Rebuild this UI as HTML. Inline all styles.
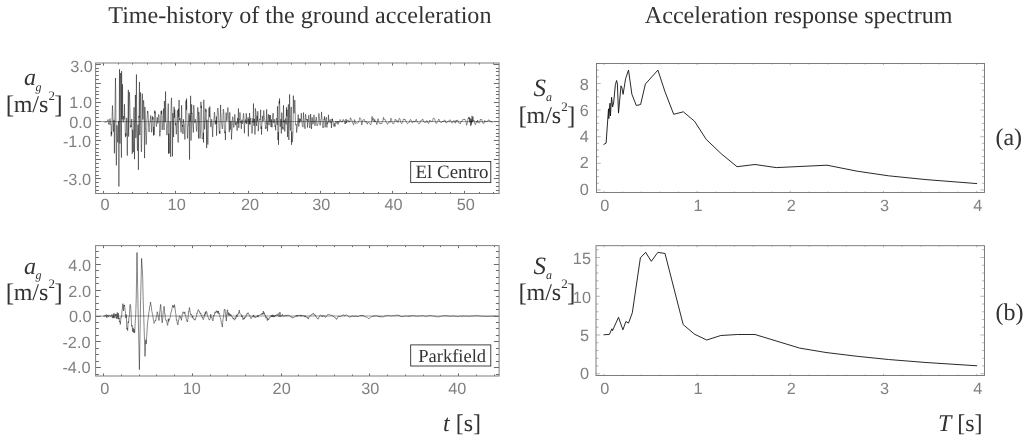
<!DOCTYPE html>
<html lang="en">
<head>
<meta charset="utf-8">
<title>Time-history of the ground acceleration and acceleration response spectrum</title>
<style>
html,body{margin:0;padding:0;background:#fff;}
body{width:1034px;height:443px;overflow:hidden;}
svg{display:block;text-rendering:geometricPrecision;}
</style>
</head>
<body>
<svg width="1034" height="443" viewBox="0 0 1034 443">
<rect width="1034" height="443" fill="#fff"/>
<g fill="none" stroke-linejoin="round" stroke-linecap="butt">
<path d="M95.6 121.6H499.1" stroke="#555" stroke-width="0.6"/>
<path d="M95.6 316H499.1" stroke="#555" stroke-width="0.6"/>
<path stroke="#000" stroke-width="0.45" d="M104.5 122.2L104.65 121.93L104.8 122.15L104.95 122.31L105.1 122.31L105.25 122.19L105.4 122.05L105.55 121.95L105.7 121.96L105.85 122.05L106 122.09L106.15 122.06L106.3 122.01L106.45 121.99L106.6 121.96L106.75 121.79L106.9 121.45L107.05 121.09L107.2 120.9L107.35 120.75L107.5 120.5L107.65 120.15L107.8 119.79L107.95 119.5L108.1 119.64L108.25 120.09L108.4 122.7L108.55 123.5L108.7 122.97L108.85 123.88L109 124.52L109.15 124.73L109.3 124.36L109.45 123.37L109.6 121.82L109.75 120.11L109.9 118.85L110.05 118.62L110.2 119.5L110.35 121.01L110.5 122.98L110.65 124.54L110.8 124.82L110.95 124.48L111.1 127.11L111.25 136.3L111.4 131.71L111.55 133.59L111.7 134.31L111.85 130.32L112 122.04L112.15 115.19L112.3 110.35L112.45 105.5L112.6 109.02L112.75 111.55L112.9 115.96L113.05 121.54L113.2 127.53L113.35 131.11L113.5 131.55L113.65 128.7L113.8 124.29L113.95 119.87L114.1 123.58L114.25 138.44L114.4 153.3L114.55 138.44L114.7 124.38L114.85 120.82L115 112.47L115.15 101.58L115.3 91.06L115.45 78L115.6 84.93L115.75 95.1L115.9 113.66L116.05 137.08L116.2 157.01L116.35 165.35L116.5 160.58L116.65 147.39L116.8 132.65L116.95 125.34L117.1 128.25L117.25 134.77L117.4 139.25L117.55 141.35L117.7 142.34L117.85 140.9L118 136.29L118.15 129.54L118.3 123.78L118.45 121.08L118.6 125.66L118.75 156.08L118.9 186.5L119.05 157.2L119.2 127.9L119.35 98.6L119.5 69.3L119.65 93.82L119.8 118.33L119.95 143.51L120.1 124.52L120.25 104.89L120.4 85.83L120.55 73.03L120.7 73.56L120.85 88.72L121 112.47L121.15 136.95L121.3 148.42L121.45 157.6L121.6 71.1L121.75 94.77L121.9 117.8L122.05 118.15L122.2 119.27L122.35 101.78L122.5 84.3L122.65 101.78L122.8 119.27L122.95 120.18L123.1 121.36L123.25 122.42L123.4 120.6L123.55 117.92L123.7 115.99L123.85 116.29L124 117.92L124.15 119.36L124.3 115.11L124.45 104.3L124.6 109.71L124.75 116.97L124.9 117.58L125.05 120.2L125.2 127.97L125.35 135.58L125.5 137.13L125.65 134.62L125.8 133.29L125.95 134.79L126.1 135.79L126.25 132.37L126.4 125.03L126.55 120.07L126.7 118.15L126.85 117.84L127 123.73L127.15 139.66L127.3 155.6L127.45 139.66L127.6 135.99L127.75 131.85L127.9 131.2L128.05 114.67L128.2 99.81L128.35 89.9L128.5 109.71L128.65 136.58L128.8 124.54L128.95 114.22L129.1 104.19L129.25 95.96L129.4 92.23L129.55 93.74L129.7 99.11L129.85 106.04L130 112.87L130.15 118.65L130.3 123.77L130.45 127.27L130.6 127.34L130.75 125.88L130.9 125.41L131.05 126.41L131.2 127.08L131.35 125.45L131.5 121.66L131.65 119.16L131.8 118.96L131.95 121.51L132.1 133.68L132.25 153.8L132.4 143.74L132.55 130.27L132.7 129.72L132.85 133.68L133 140.69L133.15 147.89L133.3 152.1L133.45 149.93L133.6 140.65L133.75 126.82L133.9 115.46L134.05 107.24L134.2 123.95L134.35 141.58L134.5 159.2L134.65 141.57L134.8 123.95L134.95 121.02L135.1 119.93L135.25 107.42L135.4 94.9L135.55 107.42L135.7 119.93L135.85 137.91L136 119.65L136.15 106.71L136.3 89.22L136.45 74.5L136.6 103.94L136.75 124.68L136.9 129.05L137.05 133.68L137.2 140.35L137.35 147.24L137.5 150.74L137.65 148.63L137.8 139.9L137.95 127.99L138.1 124.61L138.25 147.21L138.4 169.8L138.55 147.21L138.7 124.61L138.85 115.97L139 117.59L139.15 112.94L139.3 94.37L139.45 82L139.6 106.75L139.75 135.06L139.9 128.7L140.05 117.17L140.2 104.83L140.35 95.33L140.5 92.37L140.65 97.89L140.8 110.4L140.95 126.14L141.1 141.66L141.25 150.41L141.4 151.94L141.55 148.57L141.7 142.89L141.85 135.72L142 119.85L142.15 106.72L142.3 93.6L142.45 106.73L142.6 110.96L142.75 115.87L142.9 119.58L143.05 118.82L143.2 113.41L143.35 106.17L143.5 101.06L143.65 100.3L143.8 104.01L143.95 109.88L144.1 114.12L144.25 129.58L144.4 146.69L144.55 158.1L144.7 135.29L144.85 106.92L145 110.2L145.15 115.96L145.3 121.74L145.45 127.67L145.6 130.39L145.75 133.46L145.9 137.98L146.05 142.27L146.2 144.56L146.35 143.67L146.5 139.46L146.65 133.3L146.8 126.48L146.95 120.82L147.1 117.99L147.25 116.09L147.4 114.38L147.55 111.1L147.7 112.36L147.85 111.6L148 112.14L148.15 114.11L148.3 117.29L148.45 121.09L148.6 125L148.75 127.84L148.9 128.79L149.05 132L149.2 127.47L149.35 126.14L149.5 124.55L149.65 123.31L149.8 122.75L149.95 122.63L150.1 122.24L150.25 120.96L150.4 118.89L150.55 116.71L150.7 115.5L150.85 116.38L151 119.64L151.15 123.91L151.3 128.02L151.45 131.15L151.6 132.29L151.75 131.13L151.9 127.94L152.05 123.6L152.2 119.12L152.35 116.29L152.5 116.4L152.65 118.3L152.8 119.6L152.95 119.15L153.1 117.24L153.25 124.66L153.4 131.23L153.55 135.6L153.7 126.85L153.85 128.55L154 133.27L154.15 134.96L154.3 133.3L154.45 129.13L154.6 117.44L154.75 110.5L154.9 113.44L155.05 111.56L155.2 112.02L155.35 114.17L155.5 117.11L155.65 119.62L155.8 121.25L155.95 122.22L156.1 123.55L156.25 125.41L156.4 126.62L156.55 126.5L156.7 125.16L156.85 122.76L157 119.67L157.15 117.47L157.3 117.31L157.45 119.12L157.6 121.54L157.75 122.98L157.9 123.31L158.05 122.65L158.2 120.59L158.35 117.69L158.5 115.34L158.65 114.36L158.8 114.47L158.95 115.31L159.1 117.27L159.25 120.05L159.4 123.14L159.55 126.11L159.7 131.71L159.85 136.3L160 131.31L160.15 131.87L160.3 129.9L160.45 124.87L160.6 118.98L160.75 114.32L160.9 111.74L161.05 111.06L161.2 111.17L161.35 111.95L161.5 113.97L161.65 110.5L161.8 117.44L161.95 128.21L162.1 129.94L162.25 129.44L162.4 127.64L162.55 125.69L162.7 123.8L162.85 121.87L163 118.28L163.15 115.46L163.3 113.46L163.45 111.28L163.6 108.63L163.75 123.44L163.9 127.38L164.05 130L164.2 124.75L164.35 100.98L164.5 102.75L164.65 107.48L164.8 114.07L164.95 119.83L165.1 121.92L165.25 121.78L165.4 110.31L165.55 91.5L165.7 100.91L165.85 115.02L166 122.53L166.15 122.81L166.3 123.4L166.45 125.6L166.6 129.35L166.75 133.15L166.9 135.18L167.05 134.42L167.2 131.33L167.35 128.25L167.5 126.25L167.65 124.27L167.8 120.17L167.95 112.8L168.1 106.36L168.25 103.63L168.4 106.72L168.55 153.7L168.7 133.68L168.85 137.99L169 146.46L169.15 151.84L169.3 153.24L169.45 149.69L169.6 141.86L169.75 132.5L169.9 124.94L170.05 121.57L170.2 122.74L170.35 129.32L170.5 145.87L170.65 156.9L170.8 134.84L170.95 114.84L171.1 106.21L171.25 100.32L171.4 99.32L171.55 97.8L171.7 105.24L171.85 109.73L172 112.51L172.15 115.62L172.3 134.61L172.45 156.3L172.6 145.46L172.75 129.19L172.9 113.07L173.05 115.03L173.2 120.9L173.35 128.76L173.5 134.71L173.65 137.02L173.8 120.67L173.95 113.74L174.1 106.8L174.25 113.74L174.4 117.7L174.55 111.96L174.7 109.42L174.85 110.3L175 113.6L175.15 118.15L175.3 122.58L175.45 125.25L175.6 124.36L175.75 122.94L175.9 124.7L176.05 129.3L176.2 133.36L176.35 134.27L176.5 132.25L176.65 128.48L176.8 123.95L176.95 119.82L177.1 115.83L177.25 112.17L177.4 110.23L177.55 110.49L177.7 112.02L177.85 126.17L178 135.97L178.15 142.5L178.3 129.44L178.45 108.62L178.6 112.24L178.75 117.07L178.9 113.46L179.05 99.9L179.2 106.68L179.35 116.85L179.5 120.29L179.65 118.9L179.8 118.78L179.95 118.95L180.1 118.43L180.25 118.19L180.4 119.63L180.55 122.73L180.7 126.45L180.85 129.09L181 130.88L181.15 132.36L181.3 120.58L181.45 112.94L181.6 105.3L181.75 112.94L181.9 120.58L182.05 121.64L182.2 123.95L182.35 126.32L182.5 126.77L182.65 125.02L182.8 126.25L182.95 134L183.1 130.12L183.25 124.31L183.4 119.31L183.55 121.48L183.7 122.56L183.85 122.51L184 122.97L184.15 124.8L184.3 127.58L184.45 130.91L184.6 134.64L184.75 138.05L184.9 139.54L185.05 137.48L185.2 131.34L185.35 122.38L185.5 115.31L185.65 108.49L185.8 103.14L185.95 100.59L186.1 101.16L186.25 104.65L186.4 109.8L186.55 98.6L186.7 105.79L186.85 116.57L187 122.21L187.15 127.1L187.3 133.3L187.45 137.98L187.6 138.44L187.75 134.68L187.9 129.53L188.05 125.78L188.2 124.9L188.35 125.25L188.5 122.9L188.65 119.12L188.8 115.86L188.95 114.1L189.1 113.14L189.25 129.91L189.4 147.73L189.55 159.6L189.7 135.85L189.85 115.42L190 116.86L190.15 121.42L190.3 119.99L190.45 107.89L190.6 95.8L190.75 107.89L190.9 119.99L191.05 140.52L191.2 132.02L191.35 117.82L191.5 109.71L191.65 104.3L191.8 113.84L191.95 112.95L192.1 113.32L192.25 114.95L192.4 117.69L192.55 120.96L192.7 124.19L192.85 126.79L193 127.5L193.15 127.39L193.3 132.5L193.45 127.39L193.6 122.28L193.75 105.28L193.9 107.6L194.05 112.4L194.2 117.09L194.35 120.24L194.5 121.83L194.65 122.5L194.8 122.94L194.95 122.88L195.1 122.41L195.25 121.7L195.4 120.39L195.55 119.28L195.7 119.42L195.85 121.17L196 123.35L196.15 125.74L196.3 128.18L196.45 130.42L196.6 131.44L196.75 130.3L196.9 127.6L197.05 124.38L197.2 120.51L197.35 115.41L197.5 110.81L197.65 107.94L197.8 107.3L197.95 108.17L198.1 108.67L198.25 125.3L198.4 133.22L198.55 138.5L198.7 127.94L198.85 111.81L199 115.21L199.15 117.02L199.3 117.94L199.45 120.33L199.6 126.04L199.75 133.38L199.9 138.05L200.05 138.44L200.2 136.71L200.35 134.49L200.5 131.96L200.65 128.29L200.8 114.17L200.95 101.8L201.1 107.99L201.25 106.37L201.4 105.8L201.55 109.1L201.7 116.41L201.85 125.53L202 133.3L202.15 137.77L202.3 138.93L202.45 138.9L202.6 138.67L202.75 138.7L202.9 138.94L203.05 138.64L203.2 136.69L203.35 132.7L203.5 142.5L203.65 115.26L203.8 99.9L203.95 105.58L204.1 109.61L204.25 117.94L204.4 125.77L204.55 129.26L204.7 128.01L204.85 124.78L205 122.53L205.15 121.55L205.3 120.68L205.45 119.04L205.6 116.53L205.75 108.6L205.9 111.5L206.05 110.16L206.2 110.13L206.35 127.4L206.5 139.82L206.65 148.1L206.8 131.54L206.95 119.69L207.1 124.04L207.25 129.69L207.4 134.97L207.55 139.81L207.7 143.43L207.85 144.55L208 142.77L208.15 137.45L208.3 129.73L208.45 121.75L208.6 116.71L208.75 112.53L208.9 109.22L209.05 107.75L209.2 109.39L209.35 113.64L209.5 117.14L209.65 113.58L209.8 106.5L209.95 112.35L210.1 113.78L210.25 117.06L210.4 120.56L210.55 124.01L210.7 126.41L210.85 127.08L211 126.31L211.15 124.33L211.3 122.09L211.45 120.49L211.6 119.31L211.75 119.28L211.9 121.19L212.05 124.14L212.2 127.01L212.35 129.65L212.5 132.12L212.65 136.9L212.8 131.52L212.95 128.64L213.1 125.42L213.25 123.41L213.4 122.73L213.55 122.64L213.7 122.33L213.85 120.9L214 118.13L214.15 115.41L214.3 113.35L214.45 112.11L214.6 112.58L214.75 115.35L214.9 119.66L215.05 123.06L215.2 124.46L215.35 124.15L215.5 122.71L215.65 121.24L215.8 120.63L215.95 121.68L216.1 122.83L216.25 123.77L216.4 116.5L216.55 135.6L216.7 131.26L216.85 124.67L217 120.35L217.15 116.66L217.3 112.87L217.45 110.09L217.6 108.65L217.75 108.13L217.9 107.98L218.05 108.56L218.2 110.16L218.35 112.06L218.5 114.13L218.65 117.3L218.8 122.12L218.95 125.45L219.1 128.94L219.25 131.85L219.4 133.4L219.55 133.05L219.7 130.96L219.85 133.8L220 126.17L220.15 122.03L220.3 117.71L220.45 112.73L220.6 104.9L220.75 112.73L220.9 113.19L221.05 115.04L221.2 119.11L221.35 122.46L221.5 123.84L221.65 124.59L221.8 125.29L221.95 126.37L222.1 127.66L222.25 128.74L222.4 128.9L222.55 127.48L222.7 124.56L222.85 120.7L223 115.72L223.15 111.76L223.3 109.53L223.45 109.04L223.6 109.84L223.75 111.68L223.9 114.69L224.05 118.98L224.2 123.91L224.35 128.43L224.5 131.54L224.65 133.05L224.8 133.2L224.95 132.53L225.1 131.57L225.25 131.38L225.4 140L225.55 131.37L225.7 122.75L225.85 115.48L226 112.96L226.15 112.64L226.3 113.91L226.45 116.29L226.6 118.93L226.75 120.6L226.9 120.85L227.05 119.96L227.2 118.07L227.35 115.42L227.5 112.58L227.65 110.02L227.8 107.5L227.95 108.55L228.1 110.27L228.25 113.04L228.4 115.82L228.55 117.97L228.7 119.75L228.85 121.8L229 126.99L229.15 131.11L229.3 132.08L229.45 130.1L229.6 118.11L229.75 112.3L229.9 115.21L230.05 119.57L230.2 129.69L230.35 128.57L230.5 127.25L230.65 125.59L230.8 122.97L230.95 121.22L231.1 121.1L231.25 125.49L231.4 133.84L231.55 139.4L231.7 133.54L231.85 133.15L232 130.76L232.15 126.15L232.3 120.94L232.45 118.71L232.6 117.21L232.75 116.69L232.9 117.03L233.05 118.14L233.2 119.93L233.35 122.36L233.5 125.64L233.65 127.16L233.8 127.44L233.95 127.03L234.1 125.83L234.25 123.82L234.4 121.77L234.55 120.02L234.7 116.65L234.85 114.4L235 118.22L235.15 119.42L235.3 121.54L235.45 124L235.6 125.11L235.75 124.45L235.9 122.92L236.05 121.82L236.2 121.95L236.35 123.23L236.5 124.77L236.65 125.84L236.8 126.42L236.95 126.38L237.1 130.6L237.25 126.38L237.4 122.16L237.55 118.56L237.7 117.87L237.85 120.38L238 123.67L238.15 118.73L238.3 112.59L238.45 108.5L238.6 116.69L238.75 127.81L238.9 125.79L239.05 123.33L239.2 121.11L239.35 119.63L239.5 119.46L239.65 119.96L239.8 118.15L239.95 112.4L240.1 115.28L240.25 119.59L240.4 122.76L240.55 122.49L240.7 121.84L240.85 121.64L241 122.05L241.15 125.43L241.3 128.8L241.45 125.42L241.6 122.05L241.75 120L241.9 119.63L242.05 120.03L242.2 120.96L242.35 122.24L242.5 123.42L242.65 123.84L242.8 122.94L242.95 120.69L243.1 118.22L243.25 115.79L243.4 113.98L243.55 113.35L243.7 114.17L243.85 116.26L244 118.87L244.15 124.16L244.3 129.64L244.45 133.3L244.6 125.99L244.75 124.58L244.9 123.93L245.05 122.99L245.2 121.22L245.35 120.16L245.5 119.56L245.65 119.78L245.8 120.79L245.95 123.1L246.1 118.49L246.25 113.3L246.4 115.89L246.55 119.78L246.7 124.03L246.85 121.82L247 121.31L247.15 121.15L247.3 121.07L247.45 121.03L247.6 120.68L247.75 119.87L247.9 118.67L248.05 117.29L248.2 127.15L248.35 136.4L248.5 131.77L248.65 124.84L248.8 119.04L248.95 120L249.1 121.13L249.25 124.5L249.4 118.37L249.55 113L249.7 115.69L249.85 119.72L250 124.25L250.15 120.72L250.3 119.07L250.45 118.27L250.6 117.96L250.75 118.15L250.9 119.54L251.05 122.56L251.2 125.8L251.35 127.28L251.5 127.25L251.65 127.49L251.8 129.78L251.95 133.5L252.1 132.96L252.25 131.56L252.4 128.3L252.55 124.5L252.7 120.99L252.85 118.49L253 119.37L253.15 122.7L253.3 114.81L253.45 103.5L253.6 109.16L253.75 117.64L253.9 125.87L254.05 125.14L254.2 124.17L254.35 122.81L254.5 121.19L254.65 118.88L254.8 126.44L254.95 134.5L255.1 130.47L255.25 124.42L255.4 108.41L255.55 109.63L255.7 110.78L255.85 110.87L256 112.32L256.15 116.6L256.3 121.89L256.45 125.39L256.6 126.06L256.75 123.23L256.9 118.78L257.05 115.74L257.2 116.02L257.35 120.4L257.5 120.96L257.65 116.13L257.8 111.3L257.95 116.13L258.1 120.96L258.25 131.26L258.4 130.44L258.55 128.23L258.7 125.66L258.85 123.96L259 122.65L259.15 121.41L259.3 120.59L259.45 119.78L259.6 119.14L259.75 119.39L259.9 120L260.05 119.82L260.2 118.86L260.35 117.99L260.5 113.49L260.65 109.8L260.8 117.18L260.95 127.73L261.1 129.03L261.25 126.83L261.4 126.48L261.55 134.6L261.7 130.54L261.85 124.44L262 124.03L262.15 122.79L262.3 119.73L262.45 116.83L262.6 115.82L262.75 116.95L262.9 119.23L263.05 121.21L263.2 121.13L263.35 118.5L263.5 114.53L263.65 111.34L263.8 110.45L263.95 111.79L264.1 114.19L264.25 116.35L264.4 117.8L264.55 118.78L264.7 119.66L264.85 120.41L265 121.41L265.15 123.33L265.3 125.95L265.45 128.14L265.6 129.01L265.75 128.44L265.9 127.46L266.05 127.47L266.2 128.23L266.35 118.93L266.5 113.21L266.65 109.4L266.8 117.03L266.95 123.63L267.1 122.92L267.25 123.72L267.4 128.27L267.55 131.3L267.7 125.24L267.85 119.34L268 117.52L268.15 115.76L268.3 114.36L268.45 114.19L268.6 115.91L268.75 119.33L268.9 122.88L269.05 125.13L269.2 119.12L269.35 115L269.5 117.06L269.65 120.16L269.8 121.95L269.95 121.18L270.1 119.91L270.25 118.29L270.4 116.53L270.55 115.2L270.7 121.94L270.85 124.47L271 127L271.15 124.47L271.3 121.94L271.45 119.39L271.6 122.87L271.75 125.5L271.9 127.17L272.05 127.35L272.2 125.97L272.35 123.48L272.5 120.23L272.65 116.98L272.8 115.55L272.95 115.8L273.1 113.1L273.25 117.08L273.4 121.07L273.55 122.62L273.7 122.96L273.85 122.44L274 121.36L274.15 119.84L274.3 119.24L274.45 120.26L274.6 122.28L274.75 124.3L274.9 126.08L275.05 127.04L275.2 126.89L275.35 125.67L275.5 127.58L275.65 130.3L275.8 124.86L275.95 119.65L276.1 119.36L276.25 118.8L276.4 118.2L276.55 118.28L276.7 119.19L276.85 120.53L277 122.28L277.15 124.88L277.3 115.86L277.45 106.3L277.6 111.08L277.75 118.25L277.9 139.89L278.05 136.98L278.2 131.99L278.35 133.93L278.5 144.8L278.65 133.92L278.8 123.05L278.95 106.83L279.1 102.31L279.25 100.9L279.4 103.55L279.55 98.5L279.7 105.72L279.85 116.55L280 124.58L280.15 126.68L280.3 126.64L280.45 125.4L280.6 123.71L280.75 121.7L280.9 119.12L281.05 124.2L281.2 129.78L281.35 133.5L281.5 126.06L281.65 112.67L281.8 112.83L281.95 114.87L282.1 119.17L282.25 123.69L282.4 126.94L282.55 128.43L282.7 128L282.85 127.25L283 127.82L283.15 129.61L283.3 115.49L283.45 105.3L283.6 110.39L283.75 118.03L283.9 122.47L284.05 120.74L284.2 120.24L284.35 121.8L284.5 123.67L284.65 126.86L284.8 131.5L284.95 126.86L285.1 122.22L285.25 121.03L285.4 119.48L285.55 118.48L285.7 119.1L285.85 121.1L286 122.93L286.15 124.4L286.3 116.24L286.45 107.3L286.6 111.77L286.75 116.35L286.9 111.87L287.05 109.68L287.2 122.56L287.35 129.73L287.5 136.9L287.65 129.73L287.8 122.56L287.95 118.79L288.1 112.25L288.25 106.29L288.4 104.42L288.55 125.63L288.7 134.25L288.85 140L289 128.5L289.15 123.57L289.3 118.61L289.45 107.15L289.6 94.4L289.75 107.15L289.9 118.7L290.05 123.45L290.2 127.21L290.35 130.03L290.5 130.45L290.65 127.55L290.8 122.25L290.95 114.8L291.1 109.51L291.25 106.91L291.4 130.3L291.55 144.8L291.7 137.55L291.85 131.6L292 139.02L292.15 142.14L292.3 142L292.45 140.67L292.6 139.17L292.75 136.86L292.9 132.95L293.05 127.46L293.2 111.85L293.35 95.6L293.5 103.73L293.65 109.15L293.8 110.8L293.95 112.59L294.1 113.23L294.25 111.97L294.4 108.6L294.55 104.25L294.7 100.65L294.85 99.96L295 103.22L295.15 109.08L295.3 115.34L295.45 120.95L295.6 123.8L295.75 125.1L295.9 125.18L296.05 124.56L296.2 124.22L296.35 125L296.5 129.09L296.65 132.5L296.8 130.37L296.95 129.88L297.1 128.32L297.25 126.34L297.4 124.44L297.55 122.81L297.7 120.95L297.85 117.84L298 115.41L298.15 114.46L298.3 115.16L298.45 117.15L298.6 123.44L298.75 126.5L298.9 124.97L299.05 122.67L299.2 118.41L299.35 119L299.5 120.83L299.65 122.21L299.8 122.61L299.95 122.13L300.1 120.72L300.25 119.19L300.4 118.86L300.55 119.61L300.7 120.65L300.85 121.16L301 120.95L301.15 117.08L301.3 113.1L301.45 117.08L301.6 118.97L301.75 119.77L301.9 121.66L302.05 123.4L302.2 124.74L302.35 125.41L302.5 125.72L302.65 126.21L302.8 126.85L302.95 127.16L303.1 126.57L303.25 119.61L303.4 115.34L303.55 112.5L303.7 118.19L303.85 118.59L304 119.33L304.15 120.96L304.3 123.04L304.45 125.2L304.6 126.66L304.75 126.65L304.9 126.55L305.05 128.8L305.2 124.3L305.35 116.12L305.5 114.46L305.65 114.23L305.8 115.21L305.95 116.84L306.1 118.52L306.25 119.66L306.4 120.04L306.55 119.83L306.7 119.49L306.85 119.61L307 120.19L307.15 120.84L307.3 119.12L307.45 127.5L307.6 125.67L307.75 122.89L307.9 122.34L308.05 122.18L308.2 121.59L308.35 120.06L308.5 117.98L308.65 116.06L308.8 115.27L308.95 116.4L309.1 119.31L309.25 122.68L309.4 125.33L309.55 127.13L309.7 127.99L309.85 128L310 127.24L310.15 125.85L310.3 121.12L310.45 117.56L310.6 114L310.75 117.56L310.9 119.9L311.05 120.95L311.2 122.23L311.35 125.53L311.5 129L311.65 125.53L311.8 122.06L311.95 117.99L312.1 117.26L312.25 117.55L312.4 118.74L312.55 120.45L312.7 122.18L312.85 123.53L313 124.21L313.15 123.79L313.3 122.46L313.45 120.91L313.6 119.99L313.75 120.11L313.9 116.92L314.05 114.8L314.2 119.05L314.35 122.2L314.5 121.95L314.65 121.71L314.8 123.18L314.95 125.8L315.1 124.49L315.25 122.52L315.4 120.69L315.55 120.86L315.7 120.89L315.85 120.18L316 118.63L316.15 117.23L316.3 117L316.45 118.37L316.6 121.18L316.75 123.47L316.9 125.17L317.05 125.94L317.2 125.93L317.35 125.57L317.5 125.17L317.65 124.69L317.8 124.21L317.95 123.76L318.1 122.99L318.25 121.59L318.4 118.83L318.55 116.21L318.7 114.3L318.85 113.36L319 113.48L319.15 114.5L319.3 116.16L319.45 118.27L319.6 120.76L319.75 122.88L319.9 124.5L320.05 125.38L320.2 125.26L320.35 124.2L320.5 122.52L320.65 120.6L320.8 119.26L320.95 118.88L321.1 118.87L321.25 118.72L321.4 114.93L321.55 111.9L321.7 115.5L321.85 115.78L322 117.78L322.15 120.79L322.3 123.25L322.45 124.65L322.6 125.17L322.75 125.43L322.9 126L323.05 128L323.2 125.77L323.35 124.72L323.5 123.25L323.65 121.55L323.8 120.08L323.95 119.05L324.1 118.67L324.25 119.05L324.4 119.61L324.55 116.3L324.7 117.96L324.85 120.44L325 127.13L325.15 127.32L325.3 126.67L325.45 125.04L325.6 122.75L325.75 120.63L325.9 119.17L326.05 118.27L326.2 117.72L326.35 117.39L326.5 117.21L326.65 122.89L326.8 125.66L326.95 127.5L327.1 123.81L327.25 122.33L327.4 123.61L327.55 124.04L327.7 123.54L327.85 122.78L328 122.46L328.15 122.58L328.3 119.05L328.45 114.8L328.6 116.93L328.75 120.11L328.9 121.58L329.05 121.88L329.2 122.2L329.35 122.24L329.5 121.88L329.65 121.23L329.8 120.5L329.95 119.76L330.1 119.35L330.25 119.62L330.4 120.42L330.55 121.38L330.7 122.48L330.85 123.17L331 123.07L331.15 121.94L331.3 124L331.45 128L331.6 126L331.75 123L331.9 118.84L332.05 119.83L332.2 120.7L332.35 120.11L332.5 118.8L332.65 120.11L332.8 121L332.95 121.19L333.1 121.56L333.25 122.51L333.4 123.59L333.55 124.68L333.7 125.66L333.85 126.35L334 126.66L334.15 126.4L334.3 125.56L334.45 124.51L334.6 123.68L334.75 123.3L334.9 124.97L335.05 126.5L335.2 123.44L335.35 122.73L335.5 122.17L335.65 121.54L335.8 121.2L335.95 121.09L336.1 121.26L336.25 121.67L336.4 122.38L336.55 123L336.7 123.37L336.85 123.34L337 122.95L337.15 122.39L337.3 121.87L337.45 121.49L337.6 121.24L337.75 122.23L337.9 123.59L338.05 124.5L338.2 122.69L338.35 121.28L338.5 121.62L338.65 122.04L338.8 122.33L338.95 122.46L339.1 122.46L339.25 122.28L339.4 121.83L339.55 121.29L339.7 120.78L339.85 120.32L340 119.5L340.15 119.67L340.3 119.63L340.45 119.87L340.6 120.43L340.75 121.14L340.9 121.76L341.05 122.04L341.2 121.93L341.35 121.65L341.5 121.4L341.65 121.31L341.8 121.49L341.95 121.86L342.1 122.16L342.25 122.1L342.4 121.66L342.55 121.02L342.7 120.35L342.85 119.81L343 119.48L343.15 119.37L343.3 119.51L343.45 119.95L343.6 120.51L343.75 120.92L343.9 121.09L344.05 121.06L344.2 120.9L344.35 120.8L344.5 120.88L344.65 121.09L344.8 122.5L344.95 124L345.1 123.25L345.25 122.66L345.4 123.07L345.55 123.43L345.7 121.44L345.85 120.22L346 119L346.15 120.22L346.3 121.44L346.45 123.12L346.6 122.53L346.75 121.88L346.9 121.14L347.05 120.48L347.2 120.13L347.35 120.08L347.5 120.2L347.65 120.38L347.8 120.51L347.95 120.45L348.1 120.28L348.25 120.21L348.4 120.45L348.55 121.06L348.7 121.72L348.85 122.09L349 122.23L349.15 122.21L349.3 122.11L349.45 121.96L349.6 121.91L349.75 121.85L349.9 121.42L350.05 120.41L350.2 119.23L350.35 118.26L350.5 117.76L350.65 117.75L350.8 118.14L350.95 118.71L351.1 119.32L351.25 119.83L351.4 120.08L351.55 120.06L351.7 120.05L351.85 120.33L352 120.85L352.15 121.46L352.3 122L352.45 122.44L352.6 122.86L352.75 123.26L352.9 123.5L353.05 123.61L353.2 123.83L353.35 124.26L353.5 124.72L353.65 124.9L353.8 124.5L353.95 123.41L354.1 121.95L354.25 120.63L354.4 119.81L354.55 119.57L354.7 119.8L354.85 120.4L355 121.22L355.15 122.06L355.3 122.75L355.45 123.24L355.6 123.54L355.75 123.67L355.9 123.58L356.05 123.34L356.2 123.05L356.35 122.84L356.5 122.72L356.65 122.67L356.8 122.68L356.95 122.82L357.1 123.03L357.25 123.2L357.4 123.28L357.55 123.24L357.7 123.12L357.85 122.96L358 122.81L358.15 122.61L358.3 122.3L358.45 121.92L358.6 121.57L358.75 121.38L358.9 121.28L359.05 121.05L359.2 120.58L359.35 119.81L359.5 118.88L359.65 118.1L359.8 117.69L359.95 117.67L360.1 117.96L360.25 118.32L360.4 118.6L360.55 118.77L360.7 118.88L360.85 119.11L361 119.61L361.15 120.4L361.3 121.47L361.45 122.79L361.6 124.07L361.75 124.86L361.9 124.88L362.05 124.25L362.2 123.32L362.35 122.39L362.5 121.6L362.65 120.96L362.8 120.47L362.95 120.09L363.1 119.81L363.25 119.73L363.4 119.8L363.55 119.82L363.7 119.7L363.85 119.57L364 119.48L364.15 119.41L364.3 119.41L364.45 119.67L364.6 120.22L364.75 120.95L364.9 121.65L365.05 121.95L365.2 122.14L365.35 122.27L365.5 122.27L365.65 122.08L365.8 121.79L365.95 121.51L366.1 121.33L366.25 121.36L366.4 121.55L366.55 121.83L366.7 122.37L366.85 123.11L367 123.8L367.15 124.18L367.3 124.15L367.45 123.78L367.6 123.22L367.75 122.71L367.9 122.36L368.05 122.21L368.2 122.21L368.35 122.29L368.5 122.34L368.65 122.35L368.8 122.34L368.95 122.41L369.1 122.57L369.25 122.8L369.4 123.11L369.55 123.45L369.7 123.75L369.85 123.94L370 123.98L370.15 124L370.3 124.12L370.45 124.39L370.6 124.69L370.75 124.78L370.9 124.52L371.05 123.92L371.2 123.14L371.35 122.36L371.5 121.62L371.65 119.8L371.8 118.07L371.95 116.78L372.1 116.38L372.25 117.06L372.4 118.5L372.55 119.9L372.7 120.58L372.85 120.3L373 119.42L373.15 118.59L373.3 118.17L373.45 118.17L373.6 118.6L373.75 119.45L373.9 120.63L374.05 121.71L374.2 122.12L374.35 121.84L374.5 120.88L374.65 119.86L374.8 119.43L374.95 119.79L375.1 120.66L375.25 121.52L375.4 121.94L375.55 121.84L375.7 121.58L375.85 121.52L376 121.67L376.15 121.99L376.3 122.47L376.45 123.15L376.6 123.93L376.75 124.54L376.9 124.66L377.05 124.16L377.2 123.14L377.35 121.75L377.5 120.75L377.65 119.91L377.8 119.23L377.95 118.73L378.1 118.58L378.25 118.89L378.4 119.57L378.55 120.47L378.7 121.38L378.85 122.36L379 123.03L379.15 123.4L379.3 123.59L379.45 123.6L379.6 123.5L379.75 123.36L379.9 123.25L380.05 123.27L380.2 123.43L380.35 123.52L380.5 123.43L380.65 123.24L380.8 123.12L380.95 123.21L381.1 123.48L381.25 123.82L381.4 123.97L381.55 123.75L381.7 123.28L381.85 122.83L382 122.44L382.15 122.07L382.3 121.69L382.45 121.31L382.6 121.1L382.75 121.04L382.9 120.84L383.05 120.16L383.2 119.04L383.35 117.91L383.5 117.31L383.65 117.52L383.8 118.33L383.95 119.19L384.1 119.75L384.25 119.94L384.4 119.9L384.55 119.76L384.7 119.55L384.85 119.41L385 119.42L385.15 119.52L385.3 119.71L385.45 120.04L385.6 120.42L385.75 120.82L385.9 121.39L386.05 121.96L386.2 122.48L386.35 122.84L386.5 122.97L386.65 122.98L386.8 122.99L386.95 123.08L387.1 123.28L387.25 123.62L387.4 124.01L387.55 124.27L387.7 124.34L387.85 124.19L388 123.84L388.15 123.39L388.3 122.94L388.45 122.54L388.6 122.29L388.75 122.15L388.9 122.04L389.05 121.9L389.2 121.78L389.35 121.8L389.5 121.98L389.65 122.23L389.8 122.44L389.95 122.54L390.1 122.39L390.25 121.89L390.4 120.89L390.55 119.7L390.7 118.78L390.85 118.27L391 118.18L391.15 118.43L391.3 118.93L391.45 119.53L391.6 120.12L391.75 120.73L391.9 121.45L392.05 122.15L392.2 122.75L392.35 123.12L392.5 123.28L392.65 123.35L392.8 123.5L392.95 123.74L393.1 124L393.25 124.15L393.4 124.07L393.55 123.78L393.7 123.39L393.85 123.01L394 122.67L394.15 122.38L394.3 122.16L394.45 121.95L394.6 121.66L394.75 121.27L394.9 120.79L395.05 120.25L395.2 119.68L395.35 119.24L395.5 119.06L395.65 119.2L395.8 119.56L395.95 120.04L396.1 120.59L396.25 121.08L396.4 121.33L396.55 121.21L396.7 120.88L396.85 120.63L397 120.56L397.15 120.6L397.3 120.78L397.45 121.19L397.6 121.75L397.75 122.2L397.9 122.4L398.05 122.35L398.2 122.07L398.35 121.6L398.5 120.99L398.65 120.38L398.8 119.81L398.95 119.3L399.1 118.85L399.25 118.47L399.4 118.27L399.55 118.31L399.7 118.51L399.85 118.8L400 119.15L400.15 119.64L400.3 120.33L400.45 121.17L400.6 121.88L400.75 122.32L400.9 122.63L401.05 122.88L401.2 123.11L401.35 123.37L401.5 123.6L401.65 123.73L401.8 123.66L401.95 123.41L402.1 123.06L402.25 122.67L402.4 122.25L402.55 121.85L402.7 121.46L402.85 121.02L403 120.54L403.15 120.03L403.3 119.51L403.45 119.1L403.6 118.91L403.75 118.96L403.9 119.17L404.05 119.5L404.2 119.79L404.35 119.84L404.5 119.58L404.65 119.19L404.8 119L404.95 119.24L405.1 119.76L405.25 120.23L405.4 120.44L405.55 120.44L405.7 120.4L405.85 120.52L406 120.87L406.15 121.45L406.3 121.91L406.45 122.28L406.6 122.51L406.75 122.63L406.9 122.78L407.05 123.05L407.2 123.38L407.35 123.63L407.5 123.75L407.65 123.75L407.8 123.69L407.95 123.57L408.1 123.39L408.25 123.15L408.4 122.92L408.55 122.71L408.7 122.49L408.85 122.32L409 122.27L409.15 122.32L409.3 122.31L409.45 122.08L409.6 121.64L409.75 120.79L409.9 120.05L410.05 119.62L410.2 119.55L410.35 119.64L410.5 119.73L410.65 119.75L410.8 119.75L410.95 119.82L411.1 120.02L411.25 120.44L411.4 121.05L411.55 121.65L411.7 121.99L411.85 122.21L412 122.33L412.15 122.45L412.3 122.63L412.45 122.85L412.6 122.96L412.75 122.84L412.9 122.47L413.05 121.95L413.2 121.4L413.35 121.02L413.5 120.93L413.65 121.08L413.8 121.25L413.95 121.32L414.1 121.36L414.25 121.42L414.4 121.51L414.55 121.63L414.7 121.81L414.85 122L415 122.07L415.15 121.97L415.3 121.72L415.45 121.35L415.6 120.84L415.75 120.24L415.9 119.68L416.05 119.3L416.2 119.21L416.35 119.4L416.5 119.8L416.65 120.32L416.8 120.83L416.95 121.28L417.1 121.65L417.25 121.94L417.4 122.16L417.55 122.31L417.7 122.41L417.85 122.52L418 122.67L418.15 122.91L418.3 123.21L418.45 123.44L418.6 123.53L418.75 123.53L418.9 123.48L419.05 123.46L419.2 123.53L419.35 123.68L419.5 123.77L419.65 123.68L419.8 123.31L419.95 122.72L420.1 122.06L420.25 121.46L420.4 120.99L420.55 120.8L420.7 120.82L420.85 120.9L421 120.9L421.15 120.74L421.3 120.51L421.45 120.35L421.6 120.33L421.75 120.41L421.9 120.42L422.05 120.21L422.2 119.81L422.35 119.35L422.5 118.99L422.65 118.85L422.8 118.98L422.95 119.44L423.1 120.14L423.25 120.86L423.4 121.31L423.55 121.42L423.7 121.35L423.85 121.33L424 121.48L424.15 121.75L424.3 122.02L424.45 122.24L424.6 122.4L424.75 122.53L424.9 122.63L425.05 122.64L425.2 122.47L425.35 122.23L425.5 122.14L425.65 122.26L425.8 122.41L425.95 122.41L426.1 122.24L426.25 121.95L426.4 121.57L426.55 121.07L426.7 120.67L426.85 120.52L427 120.62L427.15 120.86L427.3 121.17L427.45 121.58L427.6 121.99L427.75 122.39L427.9 122.74L428.05 123.08L428.2 123.34L428.35 123.45L428.5 123.44L428.65 123.4L428.8 123.33L428.95 123.13L429.1 122.74L429.25 122.13L429.4 121.42L429.55 120.67L429.7 120.21L429.85 120.02L430 120.06L430.15 120.3L430.3 120.64L430.45 120.93L430.6 121.09L430.75 121.11L430.9 121.02L431.05 120.94L431.2 121.01L431.35 121.19L431.5 121.38L431.65 121.49L431.8 121.49L431.95 121.46L432.1 121.45L432.25 121.48L432.4 121.41L432.55 121.08L432.7 120.51L432.85 119.76L433 119.01L433.15 118.46L433.3 118.23L433.45 118.28L433.6 118.39L433.75 118.5L433.9 118.53L434.05 118.44L434.2 118.33L434.35 118.4L434.5 118.63L434.65 118.95L434.8 119.39L434.95 120L435.1 120.77L435.25 121.63L435.4 122.03L435.55 122.46L435.7 122.88L435.85 123.21L436 123.4L436.15 123.46L436.3 123.42L436.45 123.31L436.6 123.13L436.75 122.91L436.9 122.68L437.05 122.44L437.2 122.21L437.35 122.04L437.5 121.9L437.65 121.79L437.8 121.64L437.95 121.24L438.1 120.74L438.25 120.27L438.4 119.86L438.55 119.53L438.7 119.24L438.85 119.06L439 119.09L439.15 119.41L439.3 119.94L439.45 120.48L439.6 120.91L439.75 121.24L439.9 121.57L440.05 121.77L440.2 121.96L440.35 122.13L440.5 122.23L440.65 122.26L440.8 122.28L440.95 122.34L441.1 122.41L441.25 122.48L441.4 122.51L441.55 122.48L441.7 122.41L441.85 122.3L442 122.14L442.15 121.98L442.3 121.81L442.45 121.64L442.6 121.39L442.75 121.15L442.9 120.97L443.05 120.95L443.2 121.15L443.35 121.44L443.5 121.68L443.65 121.75L443.8 121.62L443.95 121.24L444.1 120.73L444.25 120.3L444.4 120.07L444.55 120L444.7 119.94L444.85 119.9L445 120.02L445.15 120.46L445.3 121.15L445.45 121.82L445.6 122.32L445.75 122.61L445.9 122.8L446.05 122.92L446.2 122.93L446.35 122.86L446.5 122.74L446.65 122.6L446.8 122.53L446.95 122.55L447.1 122.54L447.25 122.37L447.4 122.03L447.55 121.66L447.7 121.45L447.85 121.36L448 121.27L448.15 121.16L448.3 121.07L448.45 121.04L448.6 121.08L448.75 121.23L448.9 121.42L449.05 121.57L449.2 121.62L449.35 121.47L449.5 121.09L449.65 120.56L449.8 120.05L449.95 119.73L450.1 119.73L450.25 119.97L450.4 120.3L450.55 120.58L450.7 120.74L450.85 120.82L451 120.94L451.15 121.21L451.3 121.65L451.45 122.16L451.6 122.58L451.75 122.85L451.9 123.02L452.05 123.14L452.2 123.17L452.35 123.11L452.5 122.98L452.65 122.76L452.8 122.48L452.95 122.17L453.1 121.8L453.25 121.37L453.4 120.91L453.55 120.56L453.7 120.44L453.85 120.54L454 120.7L454.15 120.78L454.3 120.82L454.45 120.95L454.6 121.3L454.75 121.79L454.9 122.26L455.05 122.7L455.2 123.08L455.35 123.24L455.5 123.03L455.65 122.37L455.8 121.45L455.95 120.56L456.1 120.12L456.25 120.2L456.4 120.62L456.55 121.06L456.7 121.25L456.85 121.15L457 120.83L457.15 120.42L457.3 120.12L457.45 120.03L457.6 120.09L457.75 120.21L457.9 120.45L458.05 120.99L458.2 121.75L458.35 122.43L458.5 122.83L458.65 122.95L458.8 122.88L458.95 122.77L459.1 122.7L459.25 122.72L459.4 122.8L459.55 122.9L459.7 123.04L459.85 123.31L460 123.67L460.15 123.95L460.3 123.97L460.45 123.65L460.6 122.98L460.75 122.18L460.9 121.52L461.05 121.2L461.2 121.12L461.35 121.23L461.5 121.42L461.65 121.51L461.8 121.47L461.95 121.39L462.1 121.25L462.25 120.91L462.4 120.38L462.55 119.91L462.7 119.62L462.85 119.5L463 119.51L463.15 119.6L463.3 119.59L463.45 119.37L463.6 119.15L463.75 119.1L463.9 119.29L464.05 119.68L464.2 120L464.35 120.03L464.5 119.75L464.65 119.37L464.8 119.18L464.95 119.31L465.1 119.61L465.25 119.79L465.4 119.85L465.55 120.01L465.7 120.37L465.85 120.91L466 121.63L466.15 122.48L466.3 123.54L466.45 124.59L466.6 125.23L466.75 125.25L466.9 124.78L467.05 124.06L467.2 123.27L467.35 122.45L467.5 121.71L467.65 121.27L467.8 120.77L467.95 119.54L468.1 118.42L468.25 117.75L468.4 117.69L468.55 117.67L468.7 118.75L468.85 118.52L469 118.18L469.15 116.9L469.3 118.18L469.45 119.36L469.6 121.45L469.75 122.35L469.9 118.17L470.05 119.09L470.2 118.61L470.35 122.82L470.5 123.87L470.65 125.9L470.8 125.32L470.95 121.53L471.1 118.99L471.25 121.54L471.4 124.45L471.55 123.8L471.7 120.72L471.85 122.24L472 115.91L472.15 117.56L472.3 120.55L472.45 121.76L472.6 119.77L472.75 119.15L472.9 117.04L473.05 116.73L473.2 118.26L473.35 120.5L473.5 120.14L473.65 120.66L473.8 120.5L473.95 120.16L474.1 121.13L474.25 122.32L474.4 122.83L474.55 122.66L474.7 122.96L474.85 123.61L475 124.25L475.15 124.68L475.3 124.81L475.45 124.57L475.6 124.2L475.75 123.75L475.9 123.23L476.05 122.5L476.2 121.87L476.35 121.39L476.5 121.25L476.65 121.62L476.8 122.05L476.95 122.36L477.1 122.27L477.25 121.78L477.4 120.88L477.55 120.17L477.7 120.14L477.85 120.78L478 121.71L478.15 122.32L478.3 122.72L478.45 122.87L478.6 122.86L478.75 122.8L478.9 122.78L479.05 122.89L479.2 123.06L479.35 123.1L479.5 122.9L479.65 122.51L479.8 121.98L479.95 121.25L480.1 120.37L480.25 119.68L480.4 119.39L480.55 119.51L480.7 119.81L480.85 120L481 119.91L481.15 119.65L481.3 119.39L481.45 119.22L481.6 119.21L481.75 119.47L481.9 120.02L482.05 120.71L482.2 121.41L482.35 121.99L482.5 122.46L482.65 122.78L482.8 122.87L482.95 122.77L483.1 122.64L483.25 122.65L483.4 122.9L483.55 123.27L483.7 123.55L483.85 123.59L484 123.34L484.15 122.8L484.3 122.06L484.45 121.29L484.6 120.66L484.75 120.42L484.9 120.63L485.05 121.08L485.2 121.51L485.35 121.77L485.5 121.82L485.65 121.71L485.8 121.51L485.95 121.3L486.1 121.18L486.25 121.2L486.4 121.33L486.55 121.48L486.7 121.48L486.85 121.33L487 121.15L487.15 121.08L487.3 121.14L487.45 121.29L487.6 121.42L487.75 121.4L487.9 121.18L488.05 120.81L488.2 120.39L488.35 120L488.5 119.75L488.65 119.78L488.8 120.09L488.95 120.47L489.1 120.71L489.25 120.79L489.4 120.75L489.55 120.68L489.7 120.62L489.85 120.59L490 120.62L490.15 120.78L490.3 121.09L490.45 121.45L490.6 121.9L490.75 122.02L490.9 121.57L491.05 121.35L491.2 121.28L491.35 121.33L491.5 121.44L491.65 121.55L491.8 121.99L491.95 122.71"/>
<path stroke="#111" stroke-width="0.5" d="M103.49 316.24L103.69 316.55L103.89 316.3L104.09 315.61L104.29 315.51L104.49 316.02L104.69 315.95L104.89 316.19L105.09 316.62L105.29 316.13L105.49 315.35L105.69 315.4L105.89 315.71L106.09 315.2L106.29 314.48L106.49 315.38L106.69 317.37L106.89 317.9L107.09 316.84L107.29 316.12L107.49 315.84L107.69 315.2L107.89 314.88L108.09 315.8L108.29 316.86L108.49 316.99L108.69 316.34L108.89 315.66L109.09 315.71L109.29 316.02L109.49 315.84L109.69 315.18L109.89 315.15L110.09 315.53L110.29 315.84L110.49 316.15L110.69 316.62L110.89 316.71L111.09 316.7L111.29 316.41L111.49 315.44L111.69 314.58L111.89 315L112.09 315.75L112.29 316.61L112.49 317.88L112.69 318.18L112.89 316.07L113.09 314.46L113.29 316.01L113.49 317.93L113.69 316.36L113.89 313.55L114.09 313.21L114.29 315.04L114.49 316.6L114.69 317.79L114.89 318.17L115.09 316.62L115.29 314.49L115.49 314.59L115.69 315.49L115.89 314.92L116.09 314.06L116.29 315.46L116.49 318.15L116.69 318.77L116.89 315.66L117.09 312.68L117.29 312.44L117.49 314.51L117.69 317.55L117.89 318.84L118.09 315.72L118.29 313.2L118.49 315.59L118.69 319.19L118.89 319.08L119.09 317.76L119.29 319.5L119.49 322.1L119.69 322.03L119.89 321.24L120.09 322.5L120.29 324.43L120.49 323.19L120.69 320.27L120.89 317.83L121.09 316.79L121.29 317.17L121.49 317.25L121.69 315.24L121.89 312.09L122.09 309.89L122.29 309.31L122.49 308.3L122.69 305.34L122.89 303.64L123.09 306.38L123.29 309.74L123.49 310.92L123.69 308.04L123.89 305.24L124.09 305.77L124.29 306.12L124.49 304.87L124.69 306.51L124.89 308.81L125.09 310.16L125.29 311.38L125.49 313.52L125.69 316.17L125.89 318.21L126.09 316.79L126.29 314.52L126.49 318.71L126.69 326.27L126.89 329.12L127.09 327.91L127.29 328.4L127.49 330.52L127.69 329.95L127.89 325.57L128.09 321.71L128.29 321.48L128.49 322.84L128.69 321.32L128.89 317.75L129.09 316.77L129.29 316.65L129.49 314.34L129.69 309.54L129.89 305.94L130.09 304.42L130.29 305.01L130.49 305.33L130.69 306.99L130.89 309.16L131.09 313.06L131.29 319.53L131.49 323.91L131.69 326.45L131.89 326.31L132.09 325.15L132.29 326.28L132.49 329.84L132.69 331.67L132.89 329.75L133.09 327.76L133.29 329.41L133.49 332.52L133.69 332.19L133.89 329.72L134.09 329.18L134.29 330.6L134.49 332.76L134.69 332.98L134.89 329.88L135.09 324.09L135.29 320.78L135.49 318.52L135.67 315.69L135.69 315.34L135.89 309.58L136.09 303.3L136.2 299.83L136.29 294.64L136.49 282.94L136.69 271.36L136.89 259.49L137 252.51L137.09 256.92L137.29 267.29L137.49 277.91L137.69 288.68L137.89 299.44L137.9 300.23L138.09 308.83L138.29 318.02L138.49 327.09L138.69 336.01L138.89 345.19L139.09 354.8L139.29 364.34L139.4 369.62L139.49 364.67L139.69 352.95L139.89 341.29L140.09 329.61L140.29 318.04L140.49 306.76L140.6 300.22L140.69 296.74L140.89 288.04L141.09 279.25L141.29 270.95L141.49 263.06L141.6 258.43L141.69 260.01L141.89 263.21L142.09 266.16L142.29 269.43L142.49 273.01L142.6 274.97L142.69 278.52L142.89 286.82L143.09 295.38L143.2 300.28L143.29 303.02L143.49 309.1L143.69 314.98L143.89 321L144.09 327.34L144.29 333.93L144.49 340.45L144.69 346.6L144.89 352.68L145 356.4L145.09 354.75L145.29 350.83L145.49 346.3L145.69 341.84L145.8 339.7L145.89 340.66L146.09 342.99L146.2 343.98L146.29 342.6L146.49 339.22L146.69 336.38L146.89 333.67L147.09 330.46L147.29 327.08L147.49 323.96L147.6 322.29L147.69 321.68L147.89 320.38L148.09 318.99L148.29 317.2L148.49 315.13L148.69 313.4L148.89 312.3L149.09 311.56L149.29 310.27L149.49 307.97L149.69 306.22L149.89 306.09L150.09 306.14L150.29 304.48L150.49 302.13L150.69 303.12L150.89 305L151.09 305.62L151.29 306.22L151.49 308.26L151.69 310.4L151.89 311.46L152.09 312.26L152.29 313.27L152.49 313.97L152.69 314.7L152.89 316.18L153.09 317.88L153.29 319.12L153.49 320.18L153.69 321.38L153.89 322.67L154.09 323.41L154.29 322.97L154.49 322.3L154.69 321.87L154.89 321.35L155.09 320.52L155.29 320.4L155.49 320.94L155.69 320.95L155.89 319.98L156.09 317.84L156.29 316.62L156.49 316.58L156.69 316.28L156.89 314.65L157.09 312.65L157.29 311.77L157.49 312.67L157.69 313.44L157.89 313.99L158.09 316.17L158.29 318.04L158.49 318.43L158.69 318.89L158.89 320.38L159.09 320.49L159.29 317.76L159.49 314.39L159.69 312.02L159.89 311.01L160.09 309.48L160.29 307.1L160.49 305.13L160.69 304.43L160.89 306.37L161.09 309.42L161.29 314.03L161.49 317.18L161.69 318.24L161.89 319.73L162.09 322.83L162.29 322.59L162.49 320.73L162.69 318.44L162.89 316.01L163.09 313.17L163.29 311.21L163.49 310.96L163.69 310.6L163.89 307.93L164.09 306.24L164.29 308.62L164.49 312.32L164.69 313.75L164.89 313.42L165.09 314.87L165.29 318.22L165.49 319.52L165.69 319.4L165.89 320.32L166.09 320.58L166.29 320.22L166.49 320.38L166.69 321.58L166.89 322.55L167.09 322.96L167.29 324.61L167.49 325.38L167.69 325.19L167.89 324.27L168.09 321.54L168.29 318.75L168.49 319.52L168.69 321.71L168.89 321.24L169.09 319.32L169.29 319.06L169.49 319.58L169.69 318.87L169.89 317.92L170.09 317.55L170.29 316.67L170.49 315.53L170.69 314.53L170.89 313.04L171.09 311.65L171.29 311.5L171.49 311.53L171.69 310.39L171.89 308.83L172.09 307.96L172.29 307.33L172.49 306.17L172.69 305.22L172.89 306.14L173.09 306.85L173.29 306.13L173.49 305.86L173.69 307.23L173.89 307.86L174.09 306.22L174.29 304.63L174.49 304.81L174.69 306.04L174.89 307.34L175.09 308.61L175.29 310.53L175.49 312.34L175.69 313.34L175.89 314.26L176.09 315.99L176.29 318.61L176.49 320.24L176.69 319.91L176.89 319.78L177.09 321.5L177.29 323.27L177.49 323.92L177.69 324.91L177.89 324.7L178.09 323.99L178.29 322.69L178.49 321L178.69 320.01L178.89 319.75L179.09 318.2L179.29 316.25L179.49 315.94L179.69 316.1L179.89 315.71L180.09 316.35L180.29 317.27L180.49 317.87L180.69 317.92L180.89 317.51L181.09 317.95L181.29 319.58L181.49 320.31L181.69 318.64L181.89 317.32L182.09 315.61L182.29 313.81L182.49 313.4L182.69 313.11L182.89 311.9L183.09 311.76L183.29 312.12L183.49 312.25L183.69 312.88L183.89 313.71L184.09 313.8L184.29 313.61L184.49 312.91L184.69 311.89L184.89 312.18L185.09 314.09L185.29 315.32L185.49 315.46L185.69 315.43L185.89 316.24L186.09 317.81L186.29 318.94L186.49 319.84L186.69 320.85L186.89 321.14L187.09 320.89L187.29 321.51L187.49 321.87L187.69 319.99L187.89 318.99L188.09 317.96L188.29 315.05L188.49 311.95L188.69 311.17L188.89 311.57L189.09 310.73L189.29 308.04L189.49 307.59L189.69 308.81L189.89 310.13L190.09 311.18L190.29 313.17L190.49 314.47L190.69 314.36L190.89 313.94L191.09 314.16L191.29 314.57L191.49 314.42L191.69 314.25L191.89 315.43L192.09 317.25L192.29 317.76L192.49 316.81L192.69 315.97L192.89 316.42L193.09 317.84L193.29 318.81L193.49 318.63L193.69 318.59L193.89 319.31L194.09 319.44L194.29 318.83L194.49 319.03L194.69 319.98L194.89 320.24L195.09 319.98L195.29 319.82L195.49 319.61L195.69 318.94L195.89 317.78L196.09 316.9L196.29 316.73L196.49 316.2L196.69 314.47L196.89 312.92L197.09 312.94L197.29 313.32L197.49 312.55L197.69 311.21L197.89 310.35L198.09 310L198.29 309.62L198.49 310.02L198.69 310.67L198.89 311.21L199.09 310.95L199.29 311.02L199.49 312.11L199.69 312.87L199.89 313.18L200.09 313.61L200.29 313.66L200.49 312.97L200.69 312.73L200.89 313.89L201.09 315.23L201.29 315.51L201.49 315.15L201.69 314.93L201.89 315.64L202.09 317.16L202.29 317.77L202.49 317.24L202.69 317.47L202.89 318.74L203.09 319.53L203.29 319.71L203.49 318.94L203.69 318.45L203.89 318.02L204.09 316.97L204.29 315.24L204.49 314.5L204.69 315.5L204.89 315.64L205.09 313.59L205.29 312.02L205.49 313.01L205.69 314.2L205.89 313.11L206.09 311.32L206.29 311.07L206.49 311.7L206.69 311.9L206.89 312.23L207.09 313.76L207.29 315.22L207.49 315.62L207.69 315.71L207.89 316.46L208.09 317.23L208.29 317.6L208.49 318.07L208.69 318.82L208.89 319.19L209.09 319.54L209.29 320.02L209.49 320.14L209.69 319.28L209.89 318.82L210.09 318.71L210.29 318.33L210.49 316.78L210.69 314.39L210.89 314.3L211.09 316.45L211.29 317.74L211.49 317.71L211.69 317.56L211.89 317.5L212.09 318.11L212.29 319.41L212.49 320.22L212.69 320.76L212.89 321.01L213.09 320.35L213.29 317.98L213.49 315.79L213.69 315.33L213.89 315.86L214.09 315.99L214.29 315.37L214.49 314.21L214.69 313.09L214.89 312.26L215.09 312.44L215.29 313.15L215.49 313.05L215.69 312.11L215.89 311.55L216.09 311.71L216.29 311.4L216.49 310.69L216.69 311.17L216.89 312.39L217.09 312.5L217.29 311.55L217.49 310.92L217.69 311.59L217.89 313.13L218.09 313.46L218.29 311.93L218.49 311.09L218.69 312.49L218.89 313.91L219.09 313.72L219.29 313.34L219.49 313.6L219.69 314.62L219.89 315.95L220.09 317.37L220.29 317.99L220.49 318.41L220.69 319.34L220.89 320.19L221.09 321.17L221.29 322.69L221.49 323.79L221.69 323.86L221.89 324.02L222.09 325.47L222.29 327.07L222.49 325.45L222.69 322.54L222.89 319.97L223.09 318.76L223.29 317.73L223.49 316.05L223.69 314.89L223.89 313.43L224.09 311.2L224.29 309.45L224.49 309.64L224.69 309.95L224.89 309.47L225.09 309.97L225.29 311.75L225.49 313.24L225.69 314.82L225.89 316.55L226.09 318.86L226.29 320.98L226.49 319.21L226.69 316.14L226.89 313.31L227.09 311.59L227.29 310.02L227.49 309.81L227.69 310.85L227.89 313.52L228.09 314.74L228.29 313.49L228.49 312.58L228.69 313.75L228.89 315.42L229.09 315.5L229.29 314.2L229.49 313.41L229.69 313.83L229.89 314.94L230.09 315.89L230.29 315.65L230.49 314.49L230.69 314.31L230.89 315.41L231.09 315.94L231.29 315.51L231.49 315.58L231.69 316.35L231.89 316.93L232.09 317.14L232.29 317.16L232.49 316.92L232.69 316.99L232.89 318L233.09 319.04L233.29 318.92L233.49 318.36L233.69 318.61L233.89 319.14L234.09 319.25L234.29 319.69L234.49 320.18L234.69 319.87L234.89 318.61L235.09 317.52L235.29 317.62L235.49 318.31L235.69 318.69L235.89 318.59L236.09 317.72L236.29 315.96L236.49 314.82L236.69 315.69L236.89 316.99L237.09 316.68L237.29 315.26L237.49 314.18L237.69 313.91L237.89 314.28L238.09 314.52L238.29 313.8L238.49 312.83L238.69 312.97L238.89 313.01L239.09 311.27L239.29 310.11L239.49 311.75L239.69 313.32L239.89 313.4L240.09 313.42L240.29 313.63L240.49 313.74L240.69 313.94L240.89 314L241.09 314.03L241.29 314.7L241.49 315.97L241.69 316.91L241.89 316.99L242.09 316.31L242.29 315.67L242.49 316.32L242.69 317.99L242.89 319.33L243.09 319.72L243.29 319.28L243.49 318.44L243.69 317.94L243.89 318L244.09 318.9L244.29 319.14L244.49 318.06L244.69 317.24L244.89 317.67L245.09 317.96L245.29 317.25L245.49 316.44L245.69 316.2L245.89 316.3L246.09 316.43L246.29 316.02L246.49 314.79L246.69 313.79L246.89 313.95L247.09 314.32L247.29 313.77L247.49 312.98L247.69 312.9L247.89 313.11L248.09 312.75L248.29 312.85L248.49 313.32L248.69 313.77L248.89 314.19L249.09 314.9L249.29 315.55L249.49 315.64L249.69 315.51L249.89 315.78L250.09 316.46L250.29 316.98L250.49 317.63L250.69 318.39L250.89 318.31L251.09 317.89L251.29 318.06L251.49 318.33L251.69 318.1L251.89 317.42L252.09 316.62L252.29 316.1L252.49 316.07L252.69 316.05L252.89 316.03L253.09 316.37L253.29 316.31L253.49 315.08L253.69 314.98L253.89 316.59L254.09 317.3L254.29 316.72L254.49 316.67L254.69 316.74L254.89 316.32L255.09 316.7L255.29 317.57L255.49 317.77L255.69 317.74L255.89 317.56L256.09 316.93L256.29 316.69L256.49 316.98L256.69 316.87L256.89 316.73L257.09 316.91L257.29 316.43L257.49 315.36L257.69 315.39L257.89 316.64L258.09 317.16L258.29 316.13L258.49 315.38L258.69 315.76L258.89 315.92L259.09 315.76L259.29 315.55L259.49 315.28L259.69 315.11L259.89 315.09L260.09 314.86L260.29 314.47L260.49 314.55L260.69 314.63L260.89 314.15L261.09 313.76L261.29 313.82L261.49 313.97L261.69 314.29L261.89 314.78L262.09 314.53L262.29 313.42L262.49 313.08L262.69 313.9L262.89 314.24L263.09 312.84L263.29 311.07L263.49 311.35L263.69 313.13L263.89 314.15L264.09 313.31L264.29 312.71L264.49 313.49L264.69 314.81L264.89 315.43L265.09 315.16L265.29 314.87L265.49 315.62L265.69 317.16L265.89 318.11L266.09 318.03L266.29 317.66L266.49 317.2L266.69 316.75L266.89 317.48L267.09 319.55L267.29 320.58L267.49 319.35L267.69 318.23L267.89 318.74L268.09 319.42L268.29 319.45L268.49 319.77L268.69 319.85L268.89 319.06L269.09 318.02L269.29 317.6L269.49 317.66L269.69 317.6L269.89 317.53L270.09 317.65L270.29 317.47L270.49 316.88L270.69 316.63L270.89 316.46L271.09 315.64L271.29 315.24L271.49 316.2L271.69 316.95L271.89 316.07L272.09 315.24L272.29 316.08L272.49 316.92L272.69 316.02L272.89 314.72L273.09 314.86L273.29 316.23L273.49 317.14L273.69 316.76L273.89 315.84L274.09 315.43L274.29 316.04L274.49 316.85L274.69 316.86L274.89 315.88L275.09 315.07L275.29 315.25L275.49 315.89L275.69 316.08L275.89 315.51L276.09 315L276.29 315.07L276.49 315.1L276.69 314.61L276.89 314.5L277.09 315.21L277.29 315.7L277.49 315.34L277.69 314.72L277.89 314.13L278.09 313.58L278.29 313.44L278.49 314.5L278.69 316.13L278.89 316.59L279.09 316.86L279.29 316.63L279.49 316.19L279.69 314.51L279.89 312.06L280.09 312.89L280.29 314.71L280.49 316.23L280.69 316.82L280.89 316.38L281.09 316L281.29 315.85L281.49 315.67L281.69 315.92L281.89 316.17L282.09 315.49L282.29 314.47L282.49 314.21L282.69 314.82L282.89 315.84L283.09 316.27L283.29 316.11L283.49 315.92L283.69 316.17L283.89 316.4L284.09 316.45L284.29 316.14L284.49 315.79L284.69 315.55L284.89 315.39L285.09 315.61L285.29 315.9L285.49 315.85L285.69 315.35L285.89 314.89L286.09 315.01L286.29 315.6L286.49 316.08L286.69 315.91L286.89 315.41L287.09 315.29L287.29 315.38L287.49 315.23L287.69 315.22L287.89 315.42L288.09 315.26L288.29 314.98L288.49 315.16L288.69 315.55L288.89 315.7L289.09 315.62L289.29 315.51L289.49 315.58L289.69 315.87L289.89 316.15L290.09 316.34L290.29 316.44L290.49 316.25L290.69 315.99L290.89 316.38L291.09 317.15L291.29 317.4L291.49 317.11L291.69 316.91L291.89 317.05L292.09 317.36L292.29 317.76L292.49 318.12L292.69 318.18L292.89 317.9L293.09 317.42L293.29 317.23L293.49 317.58L293.69 317.81L293.89 317.64L294.09 317.37L294.29 317.09L294.49 316.74L294.69 316.45L294.89 316.41L295.09 316.57L295.29 316.66L295.49 316.47L295.69 316.08L295.89 315.72L296.09 315.78L296.29 316.04L296.49 315.62L296.69 315.15L296.89 315.87L297.09 316.7L297.29 316.13L297.49 315.22L297.69 315.19L297.89 315.52L298.09 315.5L298.29 315.23L298.49 315.18L298.69 315.47L298.89 315.68L299.09 315.53L299.29 315.18L299.49 315L299.69 315.34L299.89 315.94L300.09 316.17L300.29 315.76L300.49 315.07L300.69 314.84L300.89 315.44L301.09 316.18L301.29 316.26L301.49 315.79L301.69 315.33L301.89 315.23L302.09 315.56L302.29 316.01L302.49 316.1L302.69 315.78L302.89 315.44L303.09 315.41L303.29 315.61L303.49 315.85L303.69 315.97L303.89 315.81L304.09 315.64L304.29 316.06L304.49 316.62L304.69 316.26L304.89 315.64L305.09 316.11L305.29 317.05L305.49 316.92L305.69 316.1L305.89 316.07L306.09 316.72L306.29 317L306.49 316.99L306.69 317.35L306.89 317.83L307.09 317.97L307.29 317.85L307.49 317.55L307.69 317.26L307.89 317.57L308.09 318.56L308.29 319.11L308.49 318.34L308.69 317.54L308.89 317.48L309.09 317.35L309.29 316.92L309.49 316.73L309.69 316.53L309.89 315.94L310.09 315.62L310.29 315.88L310.49 316.09L310.69 315.83L310.89 315.21L311.09 314.73L311.29 314.58L311.49 314.47L311.69 314.4L311.89 314.5L312.09 314.61L312.29 314.5L312.49 314.11L312.69 313.75L312.89 313.74L313.09 313.59L313.29 313.04L313.49 313.11L313.69 313.83L313.89 314.54L314.09 314.87L314.29 314.8L314.49 314.43L314.69 314.45L314.89 315.22L315.09 315.89L315.29 315.67L315.49 315.28L315.69 315.73L315.89 316.53L316.09 316.89L316.29 316.97L316.49 317.33L316.69 317.79L316.89 317.93L317.09 318.05L317.29 318.45L317.49 318.86L317.69 318.88L317.89 318.94L318.09 319.13L318.29 319.05L318.49 318.2L318.69 317.45L318.89 317.35L319.09 317.23L319.29 316.9L319.49 316.53L319.69 315.97L319.89 315.45L320.09 315.28L320.29 315.16L320.49 314.97L320.69 315.23L320.89 315.53L321.09 315.7L321.29 316.04L321.49 316.32L321.69 316.1L321.89 315.7L322.09 315.83L322.29 316.54L322.49 316.9L322.69 316.48L322.89 315.67L323.09 315.45L323.29 315.79L323.49 315.94L323.69 315.75L323.89 315.72L324.09 315.74L324.29 315.71L324.49 315.78L324.69 316.13L324.89 316.76L325.09 317.15L325.29 317.21L325.49 317.28L325.69 317.16L325.89 316.81L326.09 316.35L326.29 316.25L326.49 316.3L326.69 316.07L326.89 315.82L327.09 315.66L327.29 315.22L327.49 314.72L327.69 314.75L327.89 314.8L328.09 314.49L328.29 314.4L328.49 314.56L328.69 314.61L328.89 314.51L329.09 314.54L329.29 314.65L329.49 314.66L329.69 314.58L329.89 314.52L330.09 314.68L330.29 315.1L330.49 315.35L330.69 315.18L330.89 315.05L331.09 315.17L331.29 315.19L331.49 315.24L331.69 315.4L331.89 315.35L332.09 315.24L332.29 315.34L332.49 315.67L332.69 316.11L332.89 316.34L333.09 316.06L333.29 315.86L333.49 316.26L333.69 316.77L333.89 317.01L334.09 317.18L334.29 317.2L334.49 317.06L334.69 317.06L334.89 317.39L335.09 317.94L335.29 318.28L335.49 318.14L335.69 317.99L335.89 318.29L336.09 318.78L336.29 319.14L336.49 319.4L336.69 319.38L336.89 318.63L337.09 318.14L337.29 318.26L337.49 318.23L337.69 317.43L337.89 316.62L338.09 316.52L338.29 316.68L338.49 316.5L338.69 316.32L338.89 316.1L339.09 315.91L339.29 316.13L339.49 316.57L339.69 316.55L339.89 316.09L340.09 315.95L340.29 316.22L340.49 316.33L340.69 316.13L340.89 315.94L341.09 315.97L341.29 316.1L341.49 316.04L341.69 315.78L341.89 315.63L342.09 315.7L342.29 315.5L342.49 315.09L342.69 315L342.89 315.23L343.09 315.24L343.29 314.89L343.49 314.64L343.69 314.95L343.89 315.16L344.09 315.09L344.29 315.28L344.49 315.78L344.69 316.08L344.89 315.93L345.09 315.7L345.29 315.46L345.49 315.18L345.69 315.1L345.89 315.22L346.09 315.18L346.29 314.95L346.49 314.8L346.69 314.82L346.89 314.96L347.09 315.05L347.29 315.22L347.49 315.4L347.69 315.63L347.89 315.93L348.09 316.09L348.29 316.1L348.49 316.26L348.69 316.67L348.89 316.98L349.09 317.12L349.29 317.18L349.49 317.11L349.69 317.11L349.89 317.12L350.09 317.04L350.29 316.98L350.49 317.1L350.69 317.02L350.89 316.54L351.09 316.1L351.29 316.03L351.49 316.25L351.69 316.42L351.89 316.22L352.09 315.94L352.29 315.96L352.49 316.04L352.69 315.9L352.89 315.81L353.09 316.07L353.29 316.43L353.49 316.48L353.69 316.14L353.89 315.89L354.09 316.07L354.29 316.23L354.49 316.02L354.69 315.93L354.89 316.3L355.09 316.51L355.29 316.2L355.49 315.89L355.69 315.81L355.89 315.82L356.09 315.88L356.29 315.99L356.49 316.18L356.69 316.57L356.89 316.8L357.09 316.56L357.29 316.25L357.49 316.35L357.69 316.72L357.89 316.93L358.09 316.83L358.29 316.54L358.49 316.2L358.69 316.1L358.89 316.27L359.09 316.35L359.29 316.24L359.49 316.05L359.69 315.83L359.89 315.79L360.09 315.99L360.29 315.96L360.49 315.58L360.69 315.34L360.89 315.61L361.09 315.97L361.29 315.87L361.49 315.4L361.69 315.14L361.89 315.42L362.09 315.89L362.29 315.92L362.49 315.45L362.69 315.12L362.89 315.38L363.09 315.75L363.29 315.73L363.49 315.7L363.69 316.01L363.89 316.2L364.09 316.05L364.29 316.07L364.49 316.42L364.69 316.61L364.89 316.55L365.09 316.5L365.29 316.57L365.49 316.75L365.69 317.03L365.89 317.22L366.09 317.15L366.29 317.1L366.49 317.33L366.69 317.5L366.89 317.48L367.09 317.64L367.29 317.91L367.49 317.92L367.69 317.86L367.89 318.05L368.09 318.29L368.29 318.42L368.49 318.54L368.69 318.56L368.89 318.54L369.09 318.65L369.29 318.57L369.49 318.22L369.69 317.86L369.89 317.72L370.09 317.63L370.29 317.52L370.49 317.41L370.69 317.18L370.89 316.94L371.09 316.88L371.29 316.8L371.49 316.64L371.69 316.49L371.89 316.38L372.09 316.34L372.29 316.47L372.49 316.49L372.69 316.27L372.89 316.19L373.09 316.21L373.29 316.03L373.49 315.97L373.69 316.28L373.89 316.43L374.09 316.06L374.29 315.66L374.49 315.7L374.69 315.99L374.89 316.09L375.09 315.95L375.29 315.91L375.49 315.92L375.69 315.82L375.89 315.84L376.09 315.94L376.29 315.86L376.49 315.68L376.69 315.65L376.89 315.68L377.09 315.8L377.29 315.85L377.49 315.92L377.69 316.31L377.89 316.5L378.09 316.17L378.29 316.07L378.49 316.41L378.69 316.49L378.89 316.27L379.09 316.2L379.29 316.45L379.49 316.89L379.69 317.11L379.89 316.76L380.09 316.3L380.29 316.41L380.49 316.92L380.69 317.06L380.89 316.79L381.09 316.73L381.29 316.91L381.49 316.92L381.69 316.8L381.89 316.82L382.09 316.93L382.29 317L382.49 316.9L382.69 316.83L382.89 316.94L383.09 316.99L383.29 316.79L383.49 316.67L383.69 316.66L383.89 316.49L384.09 316.32L384.29 316.32L384.49 316.28L384.69 316.11L384.89 316.01L385.09 316.03L385.29 316.08L385.49 316.16L385.69 315.97L385.89 315.57L386.09 315.54L386.29 315.87L386.49 315.94L386.69 315.68L386.89 315.59L387.09 315.62L387.29 315.51L387.49 315.41L387.69 315.4L387.89 315.49L388.09 315.61L388.29 315.62L388.49 315.57L388.69 315.62L388.89 315.65L389.09 315.59L389.29 315.64L389.49 315.73L389.69 315.79L389.89 315.9L390.09 315.89L390.29 315.65L390.49 315.51L390.69 315.69L390.89 315.98L391.09 316.05L391.29 315.97L391.49 316.01L391.69 316.04L391.89 315.91L392.09 315.72L392.29 315.66L392.49 315.74L392.69 315.91L392.89 316.04L393.09 315.84L393.29 315.51L393.49 315.49L393.69 315.66L393.89 315.66L394.09 315.53L394.29 315.5L394.49 315.6L394.69 315.59L394.89 315.46L395.09 315.35L395.29 315.3L395.49 315.31L395.69 315.37L395.89 315.24L396.09 315.08L396.29 315.29L396.49 315.49L396.69 315.2L396.89 314.82L397.09 314.9L397.29 315.18L397.49 315.2L397.69 314.97L397.89 314.98L398.09 315.22L398.29 315.38L398.49 315.27L398.69 315.28L398.89 315.68L399.09 315.98L399.29 315.74L399.49 315.47L399.69 315.69L399.89 316.11L400.09 316.31L400.29 316.36L400.49 316.38L400.69 316.3L400.89 316.25L401.09 316.39L401.29 316.7L401.49 316.98L401.69 316.87L401.89 316.5L402.09 316.36L402.29 316.56L402.49 316.65L402.69 316.47L402.89 316.39L403.09 316.54L403.29 316.57L403.49 316.32L403.69 316.03L403.89 315.95L404.09 316.13L404.29 316.31L404.49 316.26L404.69 316.07L404.89 315.97L405.09 315.95L405.29 315.92L405.49 315.9L405.69 315.99L405.89 316.1L406.09 316.15L406.29 316.2L406.49 316.17L406.69 315.93L406.89 315.77L407.09 315.96L407.29 316.2L407.49 316.17L407.69 316.05L407.89 316.17L408.09 316.41L408.29 316.36L408.49 315.94L408.69 315.73L408.89 316.08L409.09 316.49L409.29 316.45L409.49 316.26L409.69 316.28L409.89 316.22L410.09 315.84L410.29 315.59L410.49 315.81L410.69 316.16L410.89 316.25L411.09 316.01L411.29 315.74L411.49 315.71L411.69 315.83L411.89 315.87L412.09 315.91L412.29 315.88L412.49 315.7L412.69 315.59L412.89 315.76L413.09 315.9L413.29 315.81L413.49 315.67L413.69 315.67L413.89 315.82L414.09 315.97L414.29 315.85L414.49 315.64L414.69 315.74L414.89 316.04L415.09 316.14L415.29 316.04L415.49 316.05L415.69 316.19L415.89 316.15L416.09 315.9L416.29 315.81L416.49 316L416.69 316.22L416.89 316.29L417.09 316.18L417.29 316.02L417.49 316.05L417.69 316.29L417.89 316.37L418.09 316.21L418.29 316.07L418.49 316.04L418.69 316.07L418.89 316.17L419.09 316.13L419.29 315.93L419.49 315.87L419.69 315.96L419.89 315.93L420.09 315.82L420.29 315.83L420.49 315.92L420.69 315.96L420.89 315.83L421.09 315.63L421.29 315.59L421.49 315.74L421.69 315.91L421.89 315.94L422.09 315.79L422.29 315.67L422.49 315.73L422.69 315.86L422.89 315.99L423.09 316.05L423.29 315.87L423.49 315.66L423.69 315.72L423.89 315.97L424.09 316.2L424.29 316.28L424.49 316.18L424.69 316L424.89 315.9L425.09 315.91L425.29 316.01L425.49 316.18L425.69 316.32L425.89 316.25L426.09 316.1L426.29 316.2L426.49 316.34L426.69 316.18L426.89 315.98L427.09 315.97L427.29 316L427.49 315.99L427.69 315.99L427.89 315.95L428.09 315.86L428.29 315.81L428.49 315.81L428.69 315.81L428.89 315.77L429.09 315.7L429.29 315.64L429.49 315.56L429.69 315.52L429.89 315.57L430.09 315.56L430.29 315.49L430.49 315.51L430.69 315.62L430.89 315.72L431.09 315.71L431.29 315.66L431.49 315.73L431.69 315.79L431.89 315.67L432.09 315.67L432.29 315.93L432.49 316.08L432.69 316.06L432.89 316.08L433.09 316.06L433.29 315.98L433.49 316.03L433.69 316.19L433.89 316.29L434.09 316.28L434.29 316.24L434.49 316.22L434.69 316.33L434.89 316.49L435.09 316.56L435.29 316.48L435.49 316.42L435.69 316.57L435.89 316.81L436.09 316.86L436.29 316.66L436.49 316.53L436.69 316.64L436.89 316.83L437.09 316.91L437.29 316.92L437.49 316.96L437.69 316.97L437.89 316.88L438.09 316.9L438.29 316.96L438.49 316.81L438.69 316.57L438.89 316.56L439.09 316.68L439.29 316.7L439.49 316.6L439.69 316.55L439.89 316.6L440.09 316.52L440.29 316.29L440.49 316.26L440.69 316.45L440.89 316.51L441.09 316.36L441.29 316.2L441.49 316.11L441.69 316.11L441.89 316.21L442.09 316.23L442.29 316.02L442.49 315.86L442.69 316L442.89 316.19L443.09 316.07L443.29 315.79L443.49 315.77L443.69 316.06L443.89 316.21L444.09 316.02L444.29 315.72L444.49 315.56L444.69 315.68L444.89 315.89L445.09 315.85L445.29 315.7L445.49 315.66L445.69 315.74L445.89 315.87L446.09 315.85L446.29 315.67L446.49 315.67L446.69 315.96L446.89 316.16L447.09 315.97L447.29 315.68L447.49 315.8L447.69 316.15L447.89 316.18L448.09 315.99L448.29 315.98L448.49 316.05L448.69 316.04L448.89 316.03L449.09 316.05L449.29 316.06L449.49 316.13L449.69 316.27L449.89 316.4L450.09 316.34L450.29 316.09L450.49 315.99L450.69 316.16L450.89 316.27L451.09 316.18L451.29 316.06L451.49 316.08L451.69 316.22L451.89 316.22L452.09 315.99L452.29 315.9L452.49 316.05L452.69 316.1L452.89 316.05L453.09 316.12L453.29 316.09L453.49 315.86L453.69 315.83L453.89 316.01L454.09 315.99L454.29 315.81L454.49 315.97L454.69 316.33L454.89 316.36L455.09 316.09L455.29 315.99L455.49 316.19L455.69 316.34L455.89 316.24L456.09 316.13L456.29 316.22L456.49 316.35L456.69 316.38L456.89 316.33L457.09 316.36L457.29 316.51L457.49 316.62L457.69 316.55L457.89 316.32L458.09 316.15L458.29 316.2L458.49 316.39L458.69 316.5L458.89 316.48L459.09 316.37L459.29 316.28L459.49 316.28L459.69 316.32L459.89 316.29L460.09 316.23L460.29 316.22L460.49 316.13L460.69 315.93L460.89 315.87L461.09 316.1L461.29 316.37L461.49 316.4L461.69 316.15L461.89 315.88L462.09 315.8L462.29 315.85L462.49 316.04L462.69 316.31L462.89 316.26L463.09 315.9L463.29 315.75L463.49 315.86L463.69 315.91L463.89 315.95L464.09 316.1L464.29 316.19L464.49 316.12L464.69 316.07L464.89 316.11L465.09 316.17L465.29 316.16L465.49 316.14L465.69 316.13L465.89 316.07L466.09 316.09L466.29 316.16L466.49 316.11L466.69 316.12L466.89 316.26L467.09 316.29L467.29 316.16L467.49 316.09L467.69 316.16L467.89 316.18L468.09 316.13L468.29 316.23L468.49 316.39L468.69 316.29L468.89 316.06L469.09 315.96L469.29 315.97L469.49 316.09L469.69 316.29L469.89 316.33L470.09 316.16L470.29 315.96L470.49 315.95L470.69 316.14L470.89 316.18L471.09 315.95L471.29 315.84L471.49 316.03L471.69 316.13L471.89 316.01L472.09 315.9L472.29 315.95L472.49 316.07L472.69 316.07L472.89 316.01L473.09 315.97L473.29 315.86L473.49 315.76L473.69 315.86L473.89 316.03L474.09 316L474.29 315.82L474.49 315.8L474.69 315.89L474.89 315.86L475.09 315.77L475.29 315.86L475.49 315.96L475.69 315.79L475.89 315.62L476.09 315.72L476.29 315.93L476.49 315.96L476.69 315.72L476.89 315.49L477.09 315.65L477.29 315.91L477.49 315.85L477.69 315.71L477.89 315.75L478.09 315.8L478.29 315.79L478.49 315.83L478.69 315.85L478.89 315.82L479.09 315.87L479.29 316.01L479.49 315.98L479.69 315.8L479.89 315.74L480.09 315.89L480.29 316.11L480.49 316.19L480.69 316.09L480.89 315.95L481.09 315.95L481.29 316.08L481.49 316.19L481.69 316.18L481.89 316.16L482.09 316.22L482.29 316.23L482.49 316.15L482.69 316.15L482.89 316.21L483.09 316.25L483.29 316.26L483.49 316.21L483.69 316.22L483.89 316.36L484.09 316.42L484.29 316.24L484.49 316.1L484.69 316.29L484.89 316.57L485.09 316.52L485.29 316.23L485.49 316.13L485.69 316.34L485.89 316.57L486.09 316.5L486.29 316.29L486.49 316.35L486.69 316.57L486.89 316.52L487.09 316.33L487.29 316.36L487.49 316.5L487.69 316.53L487.89 316.47L488.09 316.46L488.29 316.45L488.49 316.32L488.69 316.18L488.89 316.25L489.09 316.44L489.29 316.5L489.49 316.45L489.69 316.38L489.89 316.26L490.09 316.12L490.29 316.1L490.49 316.22L490.69 316.34L490.89 316.35L491.09 316.24L491.29 316.08L491.49 316.04L491.69 316.19L491.89 316.24L492.09 316.09L492.29 316.05L492.49 316.19L492.69 316.23L492.89 316.08L493.09 315.98L493.29 316.08L493.49 316.2L493.69 316.15L493.89 316.08L494.09 316.07L494.29 316.05L494.49 316.07L494.69 316.2L494.89 316.25L495.09 316.17L495.29 316.08L495.49 316.13L495.69 316.25L495.89 316.26L496.09 316.12L496.29 316.08L496.49 316.21L496.69 316.3L496.89 316.29L497.09 316.18L497.29 316.07L497.49 316.1"/>
<path stroke="#111" stroke-width="0.9" d="M603.5 144.6L606.1 143.1L608.5 108.8L608.8 118.6L610 103.2L610.4 116L611.6 97.3L612.6 106.9L613.6 103L615.4 84.5L616.6 80.5L617.4 84L618.5 113.1L621 85.8L622 88L623.1 94.3L625.6 78.6L628.5 70.1L631.9 94.3L636.3 105.5L640.6 104.5L645.4 84L657.9 70.1L665 91.8L673.7 114.3L683.3 111.8L694.5 121.2L706.3 139.5L721.3 153.8L737 166.7L755 164.5L776.2 167.6L827 165.2L857.2 171.2L888.5 175.8L926 179.6L977.1 183.6"/>
<path stroke="#111" stroke-width="0.9" d="M603.5 334.8L609.4 334.4L611.9 328.8L612.5 330.6L618.5 317.3L622.9 329.8L625.9 321.5L628.5 323.1L632.3 312.8L640.4 257.8L645.6 252.3L651.3 261.3L657.9 252.3L665 253.5L683.2 324.6L694.5 334.2L706.7 340L720.8 335.5L737.5 334.5L755 334.5L799.6 348.1L826 352.5L857.2 356.3L888.5 359.5L926 362.5L977.2 365.8"/>
</g>
<g fill="none">
<path stroke="#6a6a6a" stroke-width="1" d="M103.5 193.5v-2.6M103.5 63v2.6M118.5 193.5v-1.5M118.5 63v1.5M132.5 193.5v-1.5M132.5 63v1.5M147.5 193.5v-1.5M147.5 63v1.5M161.5 193.5v-1.5M161.5 63v1.5M175.5 193.5v-2.6M175.5 63v2.6M190.5 193.5v-1.5M190.5 63v1.5M204.5 193.5v-1.5M204.5 63v1.5M219.5 193.5v-1.5M219.5 63v1.5M233.5 193.5v-1.5M233.5 63v1.5M248.5 193.5v-2.6M248.5 63v2.6M262.5 193.5v-1.5M262.5 63v1.5M277.5 193.5v-1.5M277.5 63v1.5M291.5 193.5v-1.5M291.5 63v1.5M305.5 193.5v-1.5M305.5 63v1.5M320.5 193.5v-2.6M320.5 63v2.6M334.5 193.5v-1.5M334.5 63v1.5M349.5 193.5v-1.5M349.5 63v1.5M363.5 193.5v-1.5M363.5 63v1.5M378.5 193.5v-1.5M378.5 63v1.5M392.5 193.5v-2.6M392.5 63v2.6M406.5 193.5v-1.5M406.5 63v1.5M421.5 193.5v-1.5M421.5 63v1.5M435.5 193.5v-1.5M435.5 63v1.5M450.5 193.5v-1.5M450.5 63v1.5M464.5 193.5v-2.6M464.5 63v2.6M479.5 193.5v-1.5M479.5 63v1.5M493.5 193.5v-1.5M493.5 63v1.5M95.6 190.5h3.2M499.1 190.5h-3.2M95.6 186.5h3.2M499.1 186.5h-3.2M95.6 182.5h3.2M499.1 182.5h-3.2M95.6 178.5h5.2M499.1 178.5h-5.2M95.6 175.5h3.2M499.1 175.5h-3.2M95.6 171.5h3.2M499.1 171.5h-3.2M95.6 167.5h3.2M499.1 167.5h-3.2M95.6 163.5h3.2M499.1 163.5h-3.2M95.6 159.5h5.2M499.1 159.5h-5.2M95.6 155.5h3.2M499.1 155.5h-3.2M95.6 152.5h3.2M499.1 152.5h-3.2M95.6 148.5h3.2M499.1 148.5h-3.2M95.6 144.5h3.2M499.1 144.5h-3.2M95.6 140.5h5.2M499.1 140.5h-5.2M95.6 136.5h3.2M499.1 136.5h-3.2M95.6 133.5h3.2M499.1 133.5h-3.2M95.6 129.5h3.2M499.1 129.5h-3.2M95.6 125.5h3.2M499.1 125.5h-3.2M95.6 121.5h5.2M499.1 121.5h-5.2M95.6 117.5h3.2M499.1 117.5h-3.2M95.6 113.5h3.2M499.1 113.5h-3.2M95.6 110.5h3.2M499.1 110.5h-3.2M95.6 106.5h3.2M499.1 106.5h-3.2M95.6 102.5h5.2M499.1 102.5h-5.2M95.6 98.5h3.2M499.1 98.5h-3.2M95.6 94.5h3.2M499.1 94.5h-3.2M95.6 91.5h3.2M499.1 91.5h-3.2M95.6 87.5h3.2M499.1 87.5h-3.2M95.6 83.5h5.2M499.1 83.5h-5.2M95.6 79.5h3.2M499.1 79.5h-3.2M95.6 75.5h3.2M499.1 75.5h-3.2M95.6 71.5h3.2M499.1 71.5h-3.2M95.6 68.5h3.2M499.1 68.5h-3.2M95.6 64.5h5.2M499.1 64.5h-5.2"/>
<path stroke="#6a6a6a" stroke-width="1" d="M103.5 376v-2.6M103.5 245.6v2.6M121.5 376v-1.5M121.5 245.6v1.5M139.5 376v-1.5M139.5 245.6v1.5M156.5 376v-1.5M156.5 245.6v1.5M174.5 376v-1.5M174.5 245.6v1.5M192.5 376v-2.6M192.5 245.6v2.6M210.5 376v-1.5M210.5 245.6v1.5M227.5 376v-1.5M227.5 245.6v1.5M245.5 376v-1.5M245.5 245.6v1.5M263.5 376v-1.5M263.5 245.6v1.5M281.5 376v-2.6M281.5 245.6v2.6M298.5 376v-1.5M298.5 245.6v1.5M316.5 376v-1.5M316.5 245.6v1.5M334.5 376v-1.5M334.5 245.6v1.5M352.5 376v-1.5M352.5 245.6v1.5M369.5 376v-2.6M369.5 245.6v2.6M387.5 376v-1.5M387.5 245.6v1.5M405.5 376v-1.5M405.5 245.6v1.5M423.5 376v-1.5M423.5 245.6v1.5M440.5 376v-1.5M440.5 245.6v1.5M458.5 376v-2.6M458.5 245.6v2.6M476.5 376v-1.5M476.5 245.6v1.5M494.5 376v-1.5M494.5 245.6v1.5M95.6 374.5h3.2M499.1 374.5h-3.2M95.6 367.5h5.2M499.1 367.5h-5.2M95.6 361.5h3.2M499.1 361.5h-3.2M95.6 354.5h3.2M499.1 354.5h-3.2M95.6 348.5h3.2M499.1 348.5h-3.2M95.6 341.5h5.2M499.1 341.5h-5.2M95.6 335.5h3.2M499.1 335.5h-3.2M95.6 328.5h3.2M499.1 328.5h-3.2M95.6 322.5h3.2M499.1 322.5h-3.2M95.6 316.5h5.2M499.1 316.5h-5.2M95.6 309.5h3.2M499.1 309.5h-3.2M95.6 303.5h3.2M499.1 303.5h-3.2M95.6 296.5h3.2M499.1 296.5h-3.2M95.6 290.5h5.2M499.1 290.5h-5.2M95.6 283.5h3.2M499.1 283.5h-3.2M95.6 277.5h3.2M499.1 277.5h-3.2M95.6 270.5h3.2M499.1 270.5h-3.2M95.6 264.5h5.2M499.1 264.5h-5.2M95.6 257.5h3.2M499.1 257.5h-3.2M95.6 251.5h3.2M499.1 251.5h-3.2"/>
<path stroke="#9a9a9a" stroke-width="0.7" d="M603.9 192.5v-1.6M603.9 63.5v1.6M622.54 192.5v-1M622.54 63.5v1M641.18 192.5v-1M641.18 63.5v1M659.82 192.5v-1M659.82 63.5v1M678.46 192.5v-1M678.46 63.5v1M697.1 192.5v-1.6M697.1 63.5v1.6M715.74 192.5v-1M715.74 63.5v1M734.38 192.5v-1M734.38 63.5v1M753.02 192.5v-1M753.02 63.5v1M771.66 192.5v-1M771.66 63.5v1M790.3 192.5v-1.6M790.3 63.5v1.6M808.94 192.5v-1M808.94 63.5v1M827.58 192.5v-1M827.58 63.5v1M846.22 192.5v-1M846.22 63.5v1M864.86 192.5v-1M864.86 63.5v1M883.5 192.5v-1.6M883.5 63.5v1.6M902.14 192.5v-1M902.14 63.5v1M920.78 192.5v-1M920.78 63.5v1M939.42 192.5v-1M939.42 63.5v1M958.06 192.5v-1M958.06 63.5v1M976.7 192.5v-1.6M976.7 63.5v1.6M596.5 189.9h4.2M984.5 189.9h-4.2M596.5 183.25h2.6M984.5 183.25h-2.6M596.5 176.6h2.6M984.5 176.6h-2.6M596.5 169.95h2.6M984.5 169.95h-2.6M596.5 163.3h4.2M984.5 163.3h-4.2M596.5 156.65h2.6M984.5 156.65h-2.6M596.5 150h2.6M984.5 150h-2.6M596.5 143.35h2.6M984.5 143.35h-2.6M596.5 136.7h4.2M984.5 136.7h-4.2M596.5 130.05h2.6M984.5 130.05h-2.6M596.5 123.4h2.6M984.5 123.4h-2.6M596.5 116.75h2.6M984.5 116.75h-2.6M596.5 110.1h4.2M984.5 110.1h-4.2M596.5 103.45h2.6M984.5 103.45h-2.6M596.5 96.8h2.6M984.5 96.8h-2.6M596.5 90.15h2.6M984.5 90.15h-2.6M596.5 83.5h4.2M984.5 83.5h-4.2M596.5 76.85h2.6M984.5 76.85h-2.6M596.5 70.2h2.6M984.5 70.2h-2.6M596.5 63.55h2.6M984.5 63.55h-2.6"/>
<path stroke="#9a9a9a" stroke-width="0.7" d="M603.9 375.5v-1.6M603.9 245.7v1.6M622.54 375.5v-1M622.54 245.7v1M641.18 375.5v-1M641.18 245.7v1M659.82 375.5v-1M659.82 245.7v1M678.46 375.5v-1M678.46 245.7v1M697.1 375.5v-1.6M697.1 245.7v1.6M715.74 375.5v-1M715.74 245.7v1M734.38 375.5v-1M734.38 245.7v1M753.02 375.5v-1M753.02 245.7v1M771.66 375.5v-1M771.66 245.7v1M790.3 375.5v-1.6M790.3 245.7v1.6M808.94 375.5v-1M808.94 245.7v1M827.58 375.5v-1M827.58 245.7v1M846.22 375.5v-1M846.22 245.7v1M864.86 375.5v-1M864.86 245.7v1M883.5 375.5v-1.6M883.5 245.7v1.6M902.14 375.5v-1M902.14 245.7v1M920.78 375.5v-1M920.78 245.7v1M939.42 375.5v-1M939.42 245.7v1M958.06 375.5v-1M958.06 245.7v1M976.7 375.5v-1.6M976.7 245.7v1.6M596 373.75h4.2M984.5 373.75h-4.2M596 366h2.6M984.5 366h-2.6M596 358.25h2.6M984.5 358.25h-2.6M596 350.5h2.6M984.5 350.5h-2.6M596 342.75h2.6M984.5 342.75h-2.6M596 335h4.2M984.5 335h-4.2M596 327.25h2.6M984.5 327.25h-2.6M596 319.5h2.6M984.5 319.5h-2.6M596 311.75h2.6M984.5 311.75h-2.6M596 304h2.6M984.5 304h-2.6M596 296.25h4.2M984.5 296.25h-4.2M596 288.5h2.6M984.5 288.5h-2.6M596 280.75h2.6M984.5 280.75h-2.6M596 273h2.6M984.5 273h-2.6M596 265.25h2.6M984.5 265.25h-2.6M596 257.5h4.2M984.5 257.5h-4.2M596 249.75h2.6M984.5 249.75h-2.6"/>
<rect x="95.6" y="63" width="403.5" height="130.5" fill="none" stroke="#7f7f7f" stroke-width="1.0"/>
<rect x="95.6" y="245.6" width="403.5" height="130.4" fill="none" stroke="#7f7f7f" stroke-width="1.0"/>
<rect x="596.5" y="63.5" width="388" height="129" fill="none" stroke="#707070" stroke-width="0.9"/>
<rect x="596" y="245.7" width="388.5" height="129.8" fill="none" stroke="#707070" stroke-width="0.9"/>
<rect x="410.7" y="161.5" width="80.1" height="21.1" stroke="#222" stroke-width="0.85"/>
<rect x="410.7" y="344.9" width="80.1" height="21.1" stroke="#222" stroke-width="0.85"/>
</g>
<g font-family="'Liberation Sans', Arial, Helvetica, sans-serif" font-size="16.3" fill="#808080">
<text transform="translate(70.14 72.4) scale(1.0 1)">3.0</text><text transform="translate(69.34 108.2) scale(1.0 1)">1.0</text><text transform="translate(69.14 127.5) scale(1.0 1)">0.0</text><text transform="translate(62.92 146.8) scale(1.0 1)">-1.0</text><text transform="translate(62.92 184.8) scale(1.0 1)">-3.0</text>
<text transform="translate(68.34 270.7) scale(1.0 1)">4.0</text><text transform="translate(68.34 296.5) scale(1.0 1)">2.0</text><text transform="translate(69.04 322.3) scale(1.0 1)">0.0</text><text transform="translate(62.42 347.6) scale(1.0 1)">-2.0</text><text transform="translate(62.42 373.4) scale(1.0 1)">-4.0</text>
<text transform="translate(579.74 194.8) scale(1.0 1)">0</text><text transform="translate(579.74 168.4) scale(1.0 1)">2</text><text transform="translate(579.74 141.8) scale(1.0 1)">4</text><text transform="translate(579.84 116.2) scale(1.0 1)">6</text><text transform="translate(579.84 89.8) scale(1.0 1)">8</text>
<text transform="translate(579.94 379.35) scale(1.0 1)">0</text><text transform="translate(579.94 341.3) scale(1.0 1)">5</text><text transform="translate(572.87 302.55) scale(1.0 1)">10</text><text transform="translate(572.87 263.8) scale(1.0 1)">15</text>
<text transform="translate(100.42 210.3) scale(1.0 1)">0</text><text transform="translate(167.59 210.3) scale(1.0 1)">10</text><text transform="translate(240.89 210.3) scale(1.0 1)">20</text><text transform="translate(312.29 210.3) scale(1.0 1)">30</text><text transform="translate(384.49 210.3) scale(1.0 1)">40</text><text transform="translate(456.69 210.3) scale(1.0 1)">50</text>
<text transform="translate(100.22 394.2) scale(1.0 1)">0</text><text transform="translate(182.79 394.2) scale(1.0 1)">10</text><text transform="translate(272.59 394.2) scale(1.0 1)">20</text><text transform="translate(361.29 394.2) scale(1.0 1)">30</text><text transform="translate(448.19 394.2) scale(1.0 1)">40</text>
<text transform="translate(600.37 211.4) scale(1.0 1)">0</text><text transform="translate(693.57 211.4) scale(1.0 1)">1</text><text transform="translate(786.77 211.4) scale(1.0 1)">2</text><text transform="translate(879.97 211.4) scale(1.0 1)">3</text><text transform="translate(973.17 211.4) scale(1.0 1)">4</text>
<text transform="translate(600.37 394.2) scale(1.0 1)">0</text><text transform="translate(693.57 394.2) scale(1.0 1)">1</text><text transform="translate(786.77 394.2) scale(1.0 1)">2</text><text transform="translate(879.97 394.2) scale(1.0 1)">3</text><text transform="translate(973.17 394.2) scale(1.0 1)">4</text>
</g>
<g font-family="'Liberation Serif', 'Times New Roman', Times, serif" font-size="24" fill="#333">
<text x="108.3" y="23.4" font-size="24.1">Time-history of the ground acceleration</text>
<text x="644.8" y="23.4" font-size="24.1">Acceleration response spectrum</text>
<text x="24" y="85.3" font-style="italic">a<tspan font-size="12" dy="5.4" dx="-0.4">g</tspan></text><text x="5.8" y="112.3"><tspan font-size="25.2" dy="1">[</tspan><tspan dy="-1" dx="-0.5">m/s</tspan><tspan font-size="13" dy="-12.2">2</tspan><tspan dy="13.2" dx="-0.6" font-size="25.2">]</tspan></text>
<text x="24" y="273.8" font-style="italic">a<tspan font-size="12" dy="5.4" dx="-0.4">g</tspan></text><text x="5.8" y="300.3"><tspan font-size="25.2" dy="1">[</tspan><tspan dy="-1" dx="-0.5">m/s</tspan><tspan font-size="13" dy="-12.2">2</tspan><tspan dy="13.2" dx="-0.6" font-size="25.2">]</tspan></text>
<text x="533.6" y="95.6" font-style="italic" font-size="25">S<tspan font-size="12" dy="5.2">a</tspan></text><text x="518.6" y="122.8"><tspan font-size="25.2" dy="1">[</tspan><tspan dy="-1" dx="-0.5">m/s</tspan><tspan font-size="13" dy="-12.2">2</tspan><tspan dy="13.2" dx="-0.6" font-size="25.2">]</tspan></text>
<text x="533.6" y="273.8" font-style="italic" font-size="25">S<tspan font-size="12" dy="5.2">a</tspan></text><text x="518.6" y="300.4"><tspan font-size="25.2" dy="1">[</tspan><tspan dy="-1" dx="-0.5">m/s</tspan><tspan font-size="13" dy="-12.2">2</tspan><tspan dy="13.2" dx="-0.6" font-size="25.2">]</tspan></text>
<text x="995.4" y="145">(a)</text>
<text x="995.4" y="319.6">(b)</text>
<text x="443" y="431.4"><tspan font-style="italic">t</tspan> [s]</text>
<text x="937.9" y="431.4"><tspan font-style="italic">T</tspan> [s]</text>
<text x="452" y="178.3" font-size="18.9" text-anchor="middle">El Centro</text>
<text x="452.2" y="361.7" font-size="18.5" text-anchor="middle">Parkfield</text>
</g>
</svg>
</body>
</html>
